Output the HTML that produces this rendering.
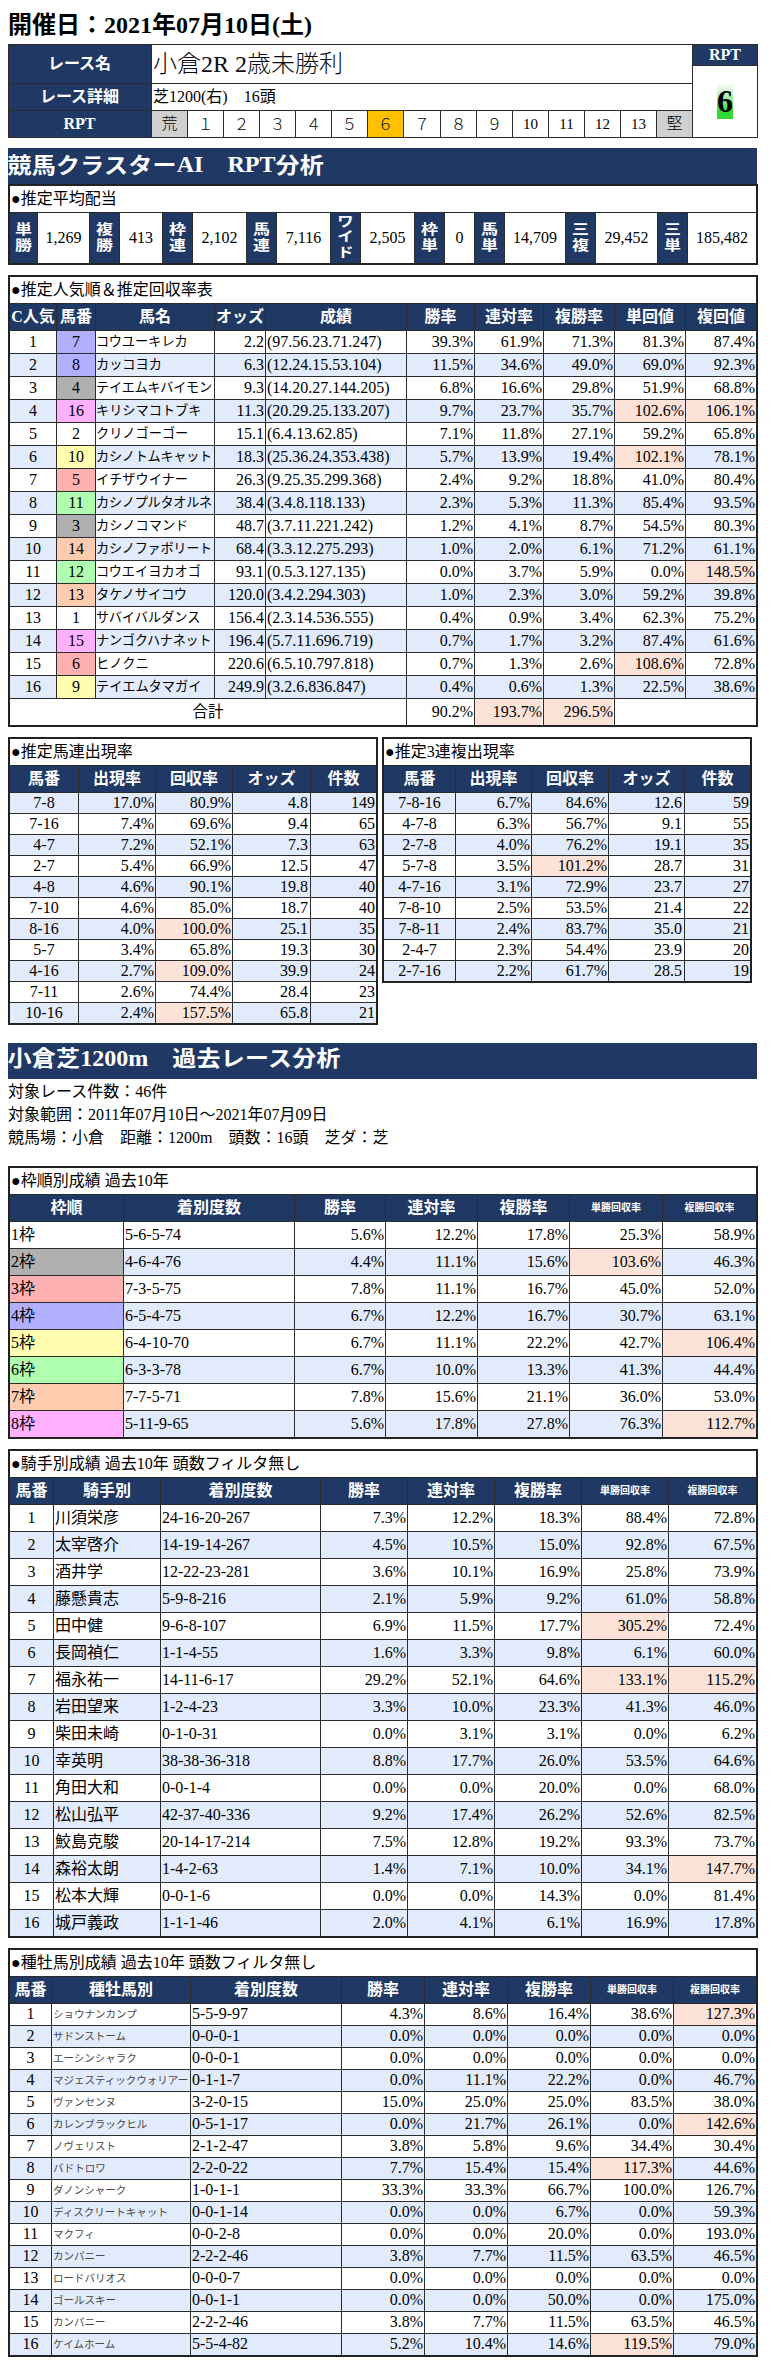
<!DOCTYPE html>
<html lang="ja"><head><meta charset="utf-8"><title>RPT</title><style>
html,body{margin:0;padding:0;background:#fff;}
body{width:784px;height:2375px;position:relative;overflow:hidden;font-family:"Liberation Serif","Noto Sans CJK JP",serif;color:#000;}
#pg div{position:absolute;box-sizing:border-box;white-space:nowrap;overflow:visible;}
.c{text-align:center}.r{text-align:right}.l{text-align:left}
.h{color:#fff;font-weight:bold;text-align:center}
</style></head><body><div id="pg">
<div class="l" style="left:8px;top:9px;width:492px;height:32px;line-height:32px;font-size:24px;font-weight:bold;">開催日：2021年07月10日(土)</div>
<div style="left:8px;top:44px;width:143px;height:94px;background:#203864;"></div>
<div class="h" style="left:8px;top:45px;width:143px;height:38px;line-height:38px;font-size:16px;">レース名</div>
<div class="h" style="left:8px;top:84px;width:143px;height:26px;line-height:26px;font-size:16px;">レース詳細</div>
<div class="h" style="left:8px;top:111px;width:143px;height:26px;line-height:26px;font-size:16px;">RPT</div>
<div class="l" style="left:153px;top:45px;width:539px;height:38px;line-height:38px;font-size:24px;font-weight:300;color:#0a0a14;">小倉2R 2歳未勝利</div>
<div class="l" style="left:153px;top:84px;width:539px;height:26px;line-height:26px;font-size:16px;">芝1200(右)　16頭</div>
<div class="c j" style="left:152px;top:111px;width:35px;height:26px;background:#d0d0d0;line-height:26px;font-size:16px;font-weight:300;">荒</div>
<div style="left:151px;top:110px;width:1px;height:28px;background:#2b2b2b"></div>
<div class="c j" style="left:188px;top:112px;width:35px;height:26px;line-height:26px;font-size:15.5px;font-weight:300;">１</div>
<div style="left:187px;top:110px;width:1px;height:28px;background:#2b2b2b"></div>
<div class="c j" style="left:224px;top:112px;width:35px;height:26px;line-height:26px;font-size:15.5px;font-weight:300;">２</div>
<div style="left:223px;top:110px;width:1px;height:28px;background:#2b2b2b"></div>
<div class="c j" style="left:260px;top:112px;width:35px;height:26px;line-height:26px;font-size:15.5px;font-weight:300;">３</div>
<div style="left:259px;top:110px;width:1px;height:28px;background:#2b2b2b"></div>
<div class="c j" style="left:296px;top:112px;width:35px;height:26px;line-height:26px;font-size:15.5px;font-weight:300;">４</div>
<div style="left:295px;top:110px;width:1px;height:28px;background:#2b2b2b"></div>
<div class="c j" style="left:332px;top:112px;width:35px;height:26px;line-height:26px;font-size:15.5px;font-weight:300;">５</div>
<div style="left:331px;top:110px;width:1px;height:28px;background:#2b2b2b"></div>
<div style="left:368px;top:111px;width:35px;height:26px;background:#ffc000;"></div>
<div class="c j" style="left:368px;top:112px;width:35px;height:26px;line-height:26px;font-size:15.5px;font-weight:300;">６</div>
<div style="left:367px;top:110px;width:1px;height:28px;background:#2b2b2b"></div>
<div class="c j" style="left:404px;top:112px;width:36px;height:26px;line-height:26px;font-size:15.5px;font-weight:300;">７</div>
<div style="left:403px;top:110px;width:1px;height:28px;background:#2b2b2b"></div>
<div class="c j" style="left:441px;top:112px;width:35px;height:26px;line-height:26px;font-size:15.5px;font-weight:300;">８</div>
<div style="left:440px;top:110px;width:1px;height:28px;background:#2b2b2b"></div>
<div class="c j" style="left:477px;top:112px;width:35px;height:26px;line-height:26px;font-size:15.5px;font-weight:300;">９</div>
<div style="left:476px;top:110px;width:1px;height:28px;background:#2b2b2b"></div>
<div class="c" style="left:513px;top:111px;width:35px;height:26px;line-height:26px;font-size:15px;">10</div>
<div style="left:512px;top:110px;width:1px;height:28px;background:#2b2b2b"></div>
<div class="c" style="left:549px;top:111px;width:35px;height:26px;line-height:26px;font-size:15px;">11</div>
<div style="left:548px;top:110px;width:1px;height:28px;background:#2b2b2b"></div>
<div class="c" style="left:585px;top:111px;width:35px;height:26px;line-height:26px;font-size:15px;">12</div>
<div style="left:584px;top:110px;width:1px;height:28px;background:#2b2b2b"></div>
<div class="c" style="left:621px;top:111px;width:35px;height:26px;line-height:26px;font-size:15px;">13</div>
<div style="left:620px;top:110px;width:1px;height:28px;background:#2b2b2b"></div>
<div class="c j" style="left:657px;top:111px;width:35px;height:26px;background:#d0d0d0;line-height:26px;font-size:16px;font-weight:300;">堅</div>
<div style="left:656px;top:110px;width:1px;height:28px;background:#2b2b2b"></div>
<div style="left:8px;top:44px;width:750px;height:1px;background:#2b2b2b"></div>
<div style="left:8px;top:83px;width:684px;height:1px;background:#2b2b2b"></div>
<div style="left:8px;top:110px;width:684px;height:1px;background:#2b2b2b"></div>
<div style="left:8px;top:137px;width:750px;height:1px;background:#2b2b2b"></div>
<div style="left:8px;top:44px;width:1px;height:94px;background:#2b2b2b"></div>
<div style="left:151px;top:44px;width:1px;height:94px;background:#2b2b2b"></div>
<div style="left:692px;top:44px;width:1px;height:94px;background:#2b2b2b"></div>
<div style="left:757px;top:44px;width:1px;height:94px;background:#2b2b2b"></div>
<div style="left:693px;top:45px;width:64px;height:21px;background:#203864;"></div>
<div class="h" style="left:693px;top:44px;width:64px;height:21px;line-height:21px;font-size:16px;">RPT</div>
<div style="left:693px;top:65px;width:64px;height:1px;background:#2b2b2b"></div>
<div class="c" style="left:717px;top:83px;width:16px;height:36px;line-height:36px;font-size:32px;font-weight:bold;background:linear-gradient(#ffffff 0%,#c4f3c4 30%,#35d935 78%,#35d935 100%);">6</div>
<div style="left:8px;top:148px;width:749px;height:37px;background:#203864;"></div>
<div class="l" style="left:7.5px;top:146px;width:749.5px;height:37px;line-height:37px;font-size:24px;color:#fff;font-weight:bold;"><span style="display:inline-block;letter-spacing:0.25px;transform:scale(1.0,0.88);transform-origin:50% 82%;">競馬クラスター</span>AI　RPT<span style="display:inline-block;letter-spacing:0.25px;transform:scale(1.0,0.88);transform-origin:50% 82%;">分析</span></div>
<div style="left:8px;top:184px;width:750px;height:2px;background:#222"></div>
<div style="left:8px;top:263px;width:750px;height:2px;background:#222"></div>
<div style="left:8px;top:184px;width:2px;height:81px;background:#222"></div>
<div style="left:756px;top:184px;width:2px;height:81px;background:#222"></div>
<div class="l" style="left:11px;top:185.5px;width:389px;height:26.0px;line-height:26.0px;font-size:16px;">●推定平均配当</div>
<div style="left:10px;top:212px;width:746px;height:1px;background:#2b2b2b"></div>
<div style="left:10px;top:213px;width:27px;height:50px;background:#203864;"></div>
<div class="h j" style="left:10px;top:218.6px;width:27px;height:37.79999999999998px;line-height:18.9px;font-size:16px;transform:scale(1.06,0.88);">単<br>勝</div>
<div class="c" style="left:38px;top:213px;width:51px;height:50px;line-height:50px;font-size:16px;">1,269</div>
<div style="left:37px;top:213px;width:1px;height:50px;background:#2b2b2b"></div>
<div style="left:90px;top:213px;width:29px;height:50px;background:#203864;"></div>
<div class="h j" style="left:90px;top:218.6px;width:29px;height:37.79999999999998px;line-height:18.9px;font-size:16px;transform:scale(1.06,0.88);">複<br>勝</div>
<div class="c" style="left:120px;top:213px;width:42px;height:50px;line-height:50px;font-size:16px;">413</div>
<div style="left:89px;top:213px;width:1px;height:50px;background:#2b2b2b"></div>
<div style="left:119px;top:213px;width:1px;height:50px;background:#2b2b2b"></div>
<div style="left:163px;top:213px;width:29px;height:50px;background:#203864;"></div>
<div class="h j" style="left:163px;top:218.6px;width:29px;height:37.79999999999998px;line-height:18.9px;font-size:16px;transform:scale(1.06,0.88);">枠<br>連</div>
<div class="c" style="left:193px;top:213px;width:53px;height:50px;line-height:50px;font-size:16px;">2,102</div>
<div style="left:162px;top:213px;width:1px;height:50px;background:#2b2b2b"></div>
<div style="left:192px;top:213px;width:1px;height:50px;background:#2b2b2b"></div>
<div style="left:247px;top:213px;width:29px;height:50px;background:#203864;"></div>
<div class="h j" style="left:247px;top:218.6px;width:29px;height:37.79999999999998px;line-height:18.9px;font-size:16px;transform:scale(1.06,0.88);">馬<br>連</div>
<div class="c" style="left:277px;top:213px;width:53px;height:50px;line-height:50px;font-size:16px;">7,116</div>
<div style="left:246px;top:213px;width:1px;height:50px;background:#2b2b2b"></div>
<div style="left:276px;top:213px;width:1px;height:50px;background:#2b2b2b"></div>
<div style="left:331px;top:213px;width:29px;height:50px;background:#203864;"></div>
<div class="h j" style="left:331px;top:211.4px;width:29px;height:52.20000000000002px;line-height:17.4px;font-size:15.5px;transform:scale(1.06,0.88);">ワ<br>イ<br>ド</div>
<div class="c" style="left:361px;top:213px;width:53px;height:50px;line-height:50px;font-size:16px;">2,505</div>
<div style="left:330px;top:213px;width:1px;height:50px;background:#2b2b2b"></div>
<div style="left:360px;top:213px;width:1px;height:50px;background:#2b2b2b"></div>
<div style="left:415px;top:213px;width:29px;height:50px;background:#203864;"></div>
<div class="h j" style="left:415px;top:218.6px;width:29px;height:37.79999999999998px;line-height:18.9px;font-size:16px;transform:scale(1.06,0.88);">枠<br>単</div>
<div class="c" style="left:445px;top:213px;width:29px;height:50px;line-height:50px;font-size:16px;">0</div>
<div style="left:414px;top:213px;width:1px;height:50px;background:#2b2b2b"></div>
<div style="left:444px;top:213px;width:1px;height:50px;background:#2b2b2b"></div>
<div style="left:475px;top:213px;width:29px;height:50px;background:#203864;"></div>
<div class="h j" style="left:475px;top:218.6px;width:29px;height:37.79999999999998px;line-height:18.9px;font-size:16px;transform:scale(1.06,0.88);">馬<br>単</div>
<div class="c" style="left:505px;top:213px;width:60px;height:50px;line-height:50px;font-size:16px;">14,709</div>
<div style="left:474px;top:213px;width:1px;height:50px;background:#2b2b2b"></div>
<div style="left:504px;top:213px;width:1px;height:50px;background:#2b2b2b"></div>
<div style="left:566px;top:213px;width:29px;height:50px;background:#203864;"></div>
<div class="h j" style="left:566px;top:218.6px;width:29px;height:37.79999999999998px;line-height:18.9px;font-size:16px;transform:scale(1.06,0.88);">三<br>複</div>
<div class="c" style="left:596px;top:213px;width:61px;height:50px;line-height:50px;font-size:16px;">29,452</div>
<div style="left:565px;top:213px;width:1px;height:50px;background:#2b2b2b"></div>
<div style="left:595px;top:213px;width:1px;height:50px;background:#2b2b2b"></div>
<div style="left:658px;top:213px;width:29px;height:50px;background:#203864;"></div>
<div class="h j" style="left:658px;top:218.6px;width:29px;height:37.79999999999998px;line-height:18.9px;font-size:16px;transform:scale(1.06,0.88);">三<br>単</div>
<div class="c" style="left:688px;top:213px;width:68px;height:50px;line-height:50px;font-size:16px;">185,482</div>
<div style="left:657px;top:213px;width:1px;height:50px;background:#2b2b2b"></div>
<div style="left:687px;top:213px;width:1px;height:50px;background:#2b2b2b"></div>
<div style="left:8px;top:275px;width:750px;height:2px;background:#222"></div>
<div style="left:8px;top:725px;width:750px;height:2px;background:#222"></div>
<div style="left:8px;top:275px;width:2px;height:452px;background:#222"></div>
<div style="left:756px;top:275px;width:2px;height:452px;background:#222"></div>
<div class="l" style="left:11px;top:276.5px;width:489px;height:26.0px;line-height:26.0px;font-size:16px;">●推定人気順＆推定回収率表</div>
<div style="left:10px;top:303px;width:746px;height:1px;background:#2b2b2b"></div>
<div style="left:10px;top:304px;width:746px;height:26px;background:#203864;"></div>
<div class="h" style="left:10px;top:304px;width:46px;height:26px;line-height:26px;font-size:16px;">C人気</div>
<div class="h" style="left:57px;top:304px;width:38px;height:26px;line-height:26px;font-size:16px;">馬番</div>
<div class="h" style="left:96px;top:304px;width:118px;height:26px;line-height:26px;font-size:16px;">馬名</div>
<div class="h" style="left:215px;top:304px;width:50px;height:26px;line-height:26px;font-size:16px;">オッズ</div>
<div class="h" style="left:266px;top:304px;width:140px;height:26px;line-height:26px;font-size:16px;">成績</div>
<div class="h" style="left:407px;top:304px;width:67px;height:26px;line-height:26px;font-size:16px;">勝率</div>
<div class="h" style="left:475px;top:304px;width:68px;height:26px;line-height:26px;font-size:16px;">連対率</div>
<div class="h" style="left:544px;top:304px;width:70px;height:26px;line-height:26px;font-size:16px;">複勝率</div>
<div class="h" style="left:615px;top:304px;width:70px;height:26px;line-height:26px;font-size:16px;">単回値</div>
<div class="h" style="left:686px;top:304px;width:70px;height:26px;line-height:26px;font-size:16px;">複回値</div>
<div style="left:10px;top:330px;width:746px;height:1px;background:#2b2b2b"></div>
<div class="c" style="left:10px;top:331px;width:46px;height:22px;line-height:22px;font-size:16px;">1</div>
<div class="c" style="left:57px;top:331px;width:38px;height:22px;background:#b0b0ff;line-height:22px;font-size:16px;">7</div>
<div class="l j" style="left:96px;top:331px;width:118px;height:22px;line-height:22px;font-size:13.2px;">コウユーキレカ</div>
<div class="r" style="left:215px;top:331px;width:49px;height:22px;line-height:22px;font-size:16px;">2.2</div>
<div class="l" style="left:267px;top:331px;width:139px;height:22px;line-height:22px;font-size:16px;">(97.56.23.71.247)</div>
<div class="r" style="left:407px;top:331px;width:66px;height:22px;line-height:22px;font-size:16px;">39.3%</div>
<div class="r" style="left:475px;top:331px;width:67px;height:22px;line-height:22px;font-size:16px;">61.9%</div>
<div class="r" style="left:544px;top:331px;width:69px;height:22px;line-height:22px;font-size:16px;">71.3%</div>
<div class="r" style="left:615px;top:331px;width:69px;height:22px;line-height:22px;font-size:16px;">81.3%</div>
<div class="r" style="left:686px;top:331px;width:69px;height:22px;line-height:22px;font-size:16px;">87.4%</div>
<div style="left:10px;top:353px;width:746px;height:23px;background:#e1ebfc;"></div>
<div style="left:10px;top:353px;width:746px;height:1px;background:#2b2b2b"></div>
<div class="c" style="left:10px;top:354px;width:46px;height:22px;line-height:22px;font-size:16px;">2</div>
<div class="c" style="left:57px;top:354px;width:38px;height:22px;background:#b0b0ff;line-height:22px;font-size:16px;">8</div>
<div class="l j" style="left:96px;top:354px;width:118px;height:22px;line-height:22px;font-size:13.2px;">カッコヨカ</div>
<div class="r" style="left:215px;top:354px;width:49px;height:22px;line-height:22px;font-size:16px;">6.3</div>
<div class="l" style="left:267px;top:354px;width:139px;height:22px;line-height:22px;font-size:16px;">(12.24.15.53.104)</div>
<div class="r" style="left:407px;top:354px;width:66px;height:22px;line-height:22px;font-size:16px;">11.5%</div>
<div class="r" style="left:475px;top:354px;width:67px;height:22px;line-height:22px;font-size:16px;">34.6%</div>
<div class="r" style="left:544px;top:354px;width:69px;height:22px;line-height:22px;font-size:16px;">49.0%</div>
<div class="r" style="left:615px;top:354px;width:69px;height:22px;line-height:22px;font-size:16px;">69.0%</div>
<div class="r" style="left:686px;top:354px;width:69px;height:22px;line-height:22px;font-size:16px;">92.3%</div>
<div style="left:10px;top:376px;width:746px;height:1px;background:#2b2b2b"></div>
<div class="c" style="left:10px;top:377px;width:46px;height:22px;line-height:22px;font-size:16px;">3</div>
<div class="c" style="left:57px;top:377px;width:38px;height:22px;background:#b0b0b0;line-height:22px;font-size:16px;">4</div>
<div class="l j" style="left:96px;top:377px;width:118px;height:22px;line-height:22px;font-size:13.2px;letter-spacing:-0.3px;">テイエムキバイモン</div>
<div class="r" style="left:215px;top:377px;width:49px;height:22px;line-height:22px;font-size:16px;">9.3</div>
<div class="l" style="left:267px;top:377px;width:139px;height:22px;line-height:22px;font-size:16px;">(14.20.27.144.205)</div>
<div class="r" style="left:407px;top:377px;width:66px;height:22px;line-height:22px;font-size:16px;">6.8%</div>
<div class="r" style="left:475px;top:377px;width:67px;height:22px;line-height:22px;font-size:16px;">16.6%</div>
<div class="r" style="left:544px;top:377px;width:69px;height:22px;line-height:22px;font-size:16px;">29.8%</div>
<div class="r" style="left:615px;top:377px;width:69px;height:22px;line-height:22px;font-size:16px;">51.9%</div>
<div class="r" style="left:686px;top:377px;width:69px;height:22px;line-height:22px;font-size:16px;">68.8%</div>
<div style="left:10px;top:399px;width:746px;height:23px;background:#e1ebfc;"></div>
<div style="left:10px;top:399px;width:746px;height:1px;background:#2b2b2b"></div>
<div class="c" style="left:10px;top:400px;width:46px;height:22px;line-height:22px;font-size:16px;">4</div>
<div class="c" style="left:57px;top:400px;width:38px;height:22px;background:#ffb0ff;line-height:22px;font-size:16px;">16</div>
<div class="l j" style="left:96px;top:400px;width:118px;height:22px;line-height:22px;font-size:13.2px;">キリシマコトブキ</div>
<div class="r" style="left:215px;top:400px;width:49px;height:22px;line-height:22px;font-size:16px;">11.3</div>
<div class="l" style="left:267px;top:400px;width:139px;height:22px;line-height:22px;font-size:16px;">(20.29.25.133.207)</div>
<div class="r" style="left:407px;top:400px;width:66px;height:22px;line-height:22px;font-size:16px;">9.7%</div>
<div class="r" style="left:475px;top:400px;width:67px;height:22px;line-height:22px;font-size:16px;">23.7%</div>
<div class="r" style="left:544px;top:400px;width:69px;height:22px;line-height:22px;font-size:16px;">35.7%</div>
<div class="r" style="left:615px;top:400px;width:69px;height:22px;background:#fde2d8;line-height:22px;font-size:16px;">102.6%</div>
<div class="r" style="left:686px;top:400px;width:69px;height:22px;background:#fde2d8;line-height:22px;font-size:16px;">106.1%</div>
<div style="left:10px;top:422px;width:746px;height:1px;background:#2b2b2b"></div>
<div class="c" style="left:10px;top:423px;width:46px;height:22px;line-height:22px;font-size:16px;">5</div>
<div class="c" style="left:57px;top:423px;width:38px;height:22px;background:#ffffff;line-height:22px;font-size:16px;">2</div>
<div class="l j" style="left:96px;top:423px;width:118px;height:22px;line-height:22px;font-size:13.2px;">クリノゴーゴー</div>
<div class="r" style="left:215px;top:423px;width:49px;height:22px;line-height:22px;font-size:16px;">15.1</div>
<div class="l" style="left:267px;top:423px;width:139px;height:22px;line-height:22px;font-size:16px;">(6.4.13.62.85)</div>
<div class="r" style="left:407px;top:423px;width:66px;height:22px;line-height:22px;font-size:16px;">7.1%</div>
<div class="r" style="left:475px;top:423px;width:67px;height:22px;line-height:22px;font-size:16px;">11.8%</div>
<div class="r" style="left:544px;top:423px;width:69px;height:22px;line-height:22px;font-size:16px;">27.1%</div>
<div class="r" style="left:615px;top:423px;width:69px;height:22px;line-height:22px;font-size:16px;">59.2%</div>
<div class="r" style="left:686px;top:423px;width:69px;height:22px;line-height:22px;font-size:16px;">65.8%</div>
<div style="left:10px;top:445px;width:746px;height:23px;background:#e1ebfc;"></div>
<div style="left:10px;top:445px;width:746px;height:1px;background:#2b2b2b"></div>
<div class="c" style="left:10px;top:446px;width:46px;height:22px;line-height:22px;font-size:16px;">6</div>
<div class="c" style="left:57px;top:446px;width:38px;height:22px;background:#fffeb0;line-height:22px;font-size:16px;">10</div>
<div class="l j" style="left:96px;top:446px;width:118px;height:22px;line-height:22px;font-size:13.2px;letter-spacing:-0.3px;">カシノトムキャット</div>
<div class="r" style="left:215px;top:446px;width:49px;height:22px;line-height:22px;font-size:16px;">18.3</div>
<div class="l" style="left:267px;top:446px;width:139px;height:22px;line-height:22px;font-size:16px;">(25.36.24.353.438)</div>
<div class="r" style="left:407px;top:446px;width:66px;height:22px;line-height:22px;font-size:16px;">5.7%</div>
<div class="r" style="left:475px;top:446px;width:67px;height:22px;line-height:22px;font-size:16px;">13.9%</div>
<div class="r" style="left:544px;top:446px;width:69px;height:22px;line-height:22px;font-size:16px;">19.4%</div>
<div class="r" style="left:615px;top:446px;width:69px;height:22px;background:#fde2d8;line-height:22px;font-size:16px;">102.1%</div>
<div class="r" style="left:686px;top:446px;width:69px;height:22px;line-height:22px;font-size:16px;">78.1%</div>
<div style="left:10px;top:468px;width:746px;height:1px;background:#2b2b2b"></div>
<div class="c" style="left:10px;top:469px;width:46px;height:22px;line-height:22px;font-size:16px;">7</div>
<div class="c" style="left:57px;top:469px;width:38px;height:22px;background:#ffb0b0;line-height:22px;font-size:16px;">5</div>
<div class="l j" style="left:96px;top:469px;width:118px;height:22px;line-height:22px;font-size:13.2px;">イチザウイナー</div>
<div class="r" style="left:215px;top:469px;width:49px;height:22px;line-height:22px;font-size:16px;">26.3</div>
<div class="l" style="left:267px;top:469px;width:139px;height:22px;line-height:22px;font-size:16px;">(9.25.35.299.368)</div>
<div class="r" style="left:407px;top:469px;width:66px;height:22px;line-height:22px;font-size:16px;">2.4%</div>
<div class="r" style="left:475px;top:469px;width:67px;height:22px;line-height:22px;font-size:16px;">9.2%</div>
<div class="r" style="left:544px;top:469px;width:69px;height:22px;line-height:22px;font-size:16px;">18.8%</div>
<div class="r" style="left:615px;top:469px;width:69px;height:22px;line-height:22px;font-size:16px;">41.0%</div>
<div class="r" style="left:686px;top:469px;width:69px;height:22px;line-height:22px;font-size:16px;">80.4%</div>
<div style="left:10px;top:491px;width:746px;height:23px;background:#e1ebfc;"></div>
<div style="left:10px;top:491px;width:746px;height:1px;background:#2b2b2b"></div>
<div class="c" style="left:10px;top:492px;width:46px;height:22px;line-height:22px;font-size:16px;">8</div>
<div class="c" style="left:57px;top:492px;width:38px;height:22px;background:#b0ffb0;line-height:22px;font-size:16px;">11</div>
<div class="l j" style="left:96px;top:492px;width:118px;height:22px;line-height:22px;font-size:13.2px;letter-spacing:-0.3px;">カシノプルタオルネ</div>
<div class="r" style="left:215px;top:492px;width:49px;height:22px;line-height:22px;font-size:16px;">38.4</div>
<div class="l" style="left:267px;top:492px;width:139px;height:22px;line-height:22px;font-size:16px;">(3.4.8.118.133)</div>
<div class="r" style="left:407px;top:492px;width:66px;height:22px;line-height:22px;font-size:16px;">2.3%</div>
<div class="r" style="left:475px;top:492px;width:67px;height:22px;line-height:22px;font-size:16px;">5.3%</div>
<div class="r" style="left:544px;top:492px;width:69px;height:22px;line-height:22px;font-size:16px;">11.3%</div>
<div class="r" style="left:615px;top:492px;width:69px;height:22px;line-height:22px;font-size:16px;">85.4%</div>
<div class="r" style="left:686px;top:492px;width:69px;height:22px;line-height:22px;font-size:16px;">93.5%</div>
<div style="left:10px;top:514px;width:746px;height:1px;background:#2b2b2b"></div>
<div class="c" style="left:10px;top:515px;width:46px;height:22px;line-height:22px;font-size:16px;">9</div>
<div class="c" style="left:57px;top:515px;width:38px;height:22px;background:#b0b0b0;line-height:22px;font-size:16px;">3</div>
<div class="l j" style="left:96px;top:515px;width:118px;height:22px;line-height:22px;font-size:13.2px;">カシノコマンド</div>
<div class="r" style="left:215px;top:515px;width:49px;height:22px;line-height:22px;font-size:16px;">48.7</div>
<div class="l" style="left:267px;top:515px;width:139px;height:22px;line-height:22px;font-size:16px;">(3.7.11.221.242)</div>
<div class="r" style="left:407px;top:515px;width:66px;height:22px;line-height:22px;font-size:16px;">1.2%</div>
<div class="r" style="left:475px;top:515px;width:67px;height:22px;line-height:22px;font-size:16px;">4.1%</div>
<div class="r" style="left:544px;top:515px;width:69px;height:22px;line-height:22px;font-size:16px;">8.7%</div>
<div class="r" style="left:615px;top:515px;width:69px;height:22px;line-height:22px;font-size:16px;">54.5%</div>
<div class="r" style="left:686px;top:515px;width:69px;height:22px;line-height:22px;font-size:16px;">80.3%</div>
<div style="left:10px;top:537px;width:746px;height:23px;background:#e1ebfc;"></div>
<div style="left:10px;top:537px;width:746px;height:1px;background:#2b2b2b"></div>
<div class="c" style="left:10px;top:538px;width:46px;height:22px;line-height:22px;font-size:16px;">10</div>
<div class="c" style="left:57px;top:538px;width:38px;height:22px;background:#ffccb0;line-height:22px;font-size:16px;">14</div>
<div class="l j" style="left:96px;top:538px;width:118px;height:22px;line-height:22px;font-size:13.2px;letter-spacing:-0.3px;">カシノファボリート</div>
<div class="r" style="left:215px;top:538px;width:49px;height:22px;line-height:22px;font-size:16px;">68.4</div>
<div class="l" style="left:267px;top:538px;width:139px;height:22px;line-height:22px;font-size:16px;">(3.3.12.275.293)</div>
<div class="r" style="left:407px;top:538px;width:66px;height:22px;line-height:22px;font-size:16px;">1.0%</div>
<div class="r" style="left:475px;top:538px;width:67px;height:22px;line-height:22px;font-size:16px;">2.0%</div>
<div class="r" style="left:544px;top:538px;width:69px;height:22px;line-height:22px;font-size:16px;">6.1%</div>
<div class="r" style="left:615px;top:538px;width:69px;height:22px;line-height:22px;font-size:16px;">71.2%</div>
<div class="r" style="left:686px;top:538px;width:69px;height:22px;line-height:22px;font-size:16px;">61.1%</div>
<div style="left:10px;top:560px;width:746px;height:1px;background:#2b2b2b"></div>
<div class="c" style="left:10px;top:561px;width:46px;height:22px;line-height:22px;font-size:16px;">11</div>
<div class="c" style="left:57px;top:561px;width:38px;height:22px;background:#b0ffb0;line-height:22px;font-size:16px;">12</div>
<div class="l j" style="left:96px;top:561px;width:118px;height:22px;line-height:22px;font-size:13.2px;">コウエイヨカオゴ</div>
<div class="r" style="left:215px;top:561px;width:49px;height:22px;line-height:22px;font-size:16px;">93.1</div>
<div class="l" style="left:267px;top:561px;width:139px;height:22px;line-height:22px;font-size:16px;">(0.5.3.127.135)</div>
<div class="r" style="left:407px;top:561px;width:66px;height:22px;line-height:22px;font-size:16px;">0.0%</div>
<div class="r" style="left:475px;top:561px;width:67px;height:22px;line-height:22px;font-size:16px;">3.7%</div>
<div class="r" style="left:544px;top:561px;width:69px;height:22px;line-height:22px;font-size:16px;">5.9%</div>
<div class="r" style="left:615px;top:561px;width:69px;height:22px;line-height:22px;font-size:16px;">0.0%</div>
<div class="r" style="left:686px;top:561px;width:69px;height:22px;background:#fde2d8;line-height:22px;font-size:16px;">148.5%</div>
<div style="left:10px;top:583px;width:746px;height:23px;background:#e1ebfc;"></div>
<div style="left:10px;top:583px;width:746px;height:1px;background:#2b2b2b"></div>
<div class="c" style="left:10px;top:584px;width:46px;height:22px;line-height:22px;font-size:16px;">12</div>
<div class="c" style="left:57px;top:584px;width:38px;height:22px;background:#ffccb0;line-height:22px;font-size:16px;">13</div>
<div class="l j" style="left:96px;top:584px;width:118px;height:22px;line-height:22px;font-size:13.2px;">タケノサイコウ</div>
<div class="r" style="left:215px;top:584px;width:49px;height:22px;line-height:22px;font-size:16px;">120.0</div>
<div class="l" style="left:267px;top:584px;width:139px;height:22px;line-height:22px;font-size:16px;">(3.4.2.294.303)</div>
<div class="r" style="left:407px;top:584px;width:66px;height:22px;line-height:22px;font-size:16px;">1.0%</div>
<div class="r" style="left:475px;top:584px;width:67px;height:22px;line-height:22px;font-size:16px;">2.3%</div>
<div class="r" style="left:544px;top:584px;width:69px;height:22px;line-height:22px;font-size:16px;">3.0%</div>
<div class="r" style="left:615px;top:584px;width:69px;height:22px;line-height:22px;font-size:16px;">59.2%</div>
<div class="r" style="left:686px;top:584px;width:69px;height:22px;line-height:22px;font-size:16px;">39.8%</div>
<div style="left:10px;top:606px;width:746px;height:1px;background:#2b2b2b"></div>
<div class="c" style="left:10px;top:607px;width:46px;height:22px;line-height:22px;font-size:16px;">13</div>
<div class="c" style="left:57px;top:607px;width:38px;height:22px;background:#ffffff;line-height:22px;font-size:16px;">1</div>
<div class="l j" style="left:96px;top:607px;width:118px;height:22px;line-height:22px;font-size:13.2px;">サバイバルダンス</div>
<div class="r" style="left:215px;top:607px;width:49px;height:22px;line-height:22px;font-size:16px;">156.4</div>
<div class="l" style="left:267px;top:607px;width:139px;height:22px;line-height:22px;font-size:16px;">(2.3.14.536.555)</div>
<div class="r" style="left:407px;top:607px;width:66px;height:22px;line-height:22px;font-size:16px;">0.4%</div>
<div class="r" style="left:475px;top:607px;width:67px;height:22px;line-height:22px;font-size:16px;">0.9%</div>
<div class="r" style="left:544px;top:607px;width:69px;height:22px;line-height:22px;font-size:16px;">3.4%</div>
<div class="r" style="left:615px;top:607px;width:69px;height:22px;line-height:22px;font-size:16px;">62.3%</div>
<div class="r" style="left:686px;top:607px;width:69px;height:22px;line-height:22px;font-size:16px;">75.2%</div>
<div style="left:10px;top:629px;width:746px;height:23px;background:#e1ebfc;"></div>
<div style="left:10px;top:629px;width:746px;height:1px;background:#2b2b2b"></div>
<div class="c" style="left:10px;top:630px;width:46px;height:22px;line-height:22px;font-size:16px;">14</div>
<div class="c" style="left:57px;top:630px;width:38px;height:22px;background:#ffb0ff;line-height:22px;font-size:16px;">15</div>
<div class="l j" style="left:96px;top:630px;width:118px;height:22px;line-height:22px;font-size:13.2px;letter-spacing:-0.3px;">ナンゴクハナネット</div>
<div class="r" style="left:215px;top:630px;width:49px;height:22px;line-height:22px;font-size:16px;">196.4</div>
<div class="l" style="left:267px;top:630px;width:139px;height:22px;line-height:22px;font-size:16px;">(5.7.11.696.719)</div>
<div class="r" style="left:407px;top:630px;width:66px;height:22px;line-height:22px;font-size:16px;">0.7%</div>
<div class="r" style="left:475px;top:630px;width:67px;height:22px;line-height:22px;font-size:16px;">1.7%</div>
<div class="r" style="left:544px;top:630px;width:69px;height:22px;line-height:22px;font-size:16px;">3.2%</div>
<div class="r" style="left:615px;top:630px;width:69px;height:22px;line-height:22px;font-size:16px;">87.4%</div>
<div class="r" style="left:686px;top:630px;width:69px;height:22px;line-height:22px;font-size:16px;">61.6%</div>
<div style="left:10px;top:652px;width:746px;height:1px;background:#2b2b2b"></div>
<div class="c" style="left:10px;top:653px;width:46px;height:22px;line-height:22px;font-size:16px;">15</div>
<div class="c" style="left:57px;top:653px;width:38px;height:22px;background:#ffb0b0;line-height:22px;font-size:16px;">6</div>
<div class="l j" style="left:96px;top:653px;width:118px;height:22px;line-height:22px;font-size:13.2px;">ヒノクニ</div>
<div class="r" style="left:215px;top:653px;width:49px;height:22px;line-height:22px;font-size:16px;">220.6</div>
<div class="l" style="left:267px;top:653px;width:139px;height:22px;line-height:22px;font-size:16px;">(6.5.10.797.818)</div>
<div class="r" style="left:407px;top:653px;width:66px;height:22px;line-height:22px;font-size:16px;">0.7%</div>
<div class="r" style="left:475px;top:653px;width:67px;height:22px;line-height:22px;font-size:16px;">1.3%</div>
<div class="r" style="left:544px;top:653px;width:69px;height:22px;line-height:22px;font-size:16px;">2.6%</div>
<div class="r" style="left:615px;top:653px;width:69px;height:22px;background:#fde2d8;line-height:22px;font-size:16px;">108.6%</div>
<div class="r" style="left:686px;top:653px;width:69px;height:22px;line-height:22px;font-size:16px;">72.8%</div>
<div style="left:10px;top:675px;width:746px;height:23px;background:#e1ebfc;"></div>
<div style="left:10px;top:675px;width:746px;height:1px;background:#2b2b2b"></div>
<div class="c" style="left:10px;top:676px;width:46px;height:22px;line-height:22px;font-size:16px;">16</div>
<div class="c" style="left:57px;top:676px;width:38px;height:22px;background:#fffeb0;line-height:22px;font-size:16px;">9</div>
<div class="l j" style="left:96px;top:676px;width:118px;height:22px;line-height:22px;font-size:13.2px;">テイエムタマガイ</div>
<div class="r" style="left:215px;top:676px;width:49px;height:22px;line-height:22px;font-size:16px;">249.9</div>
<div class="l" style="left:267px;top:676px;width:139px;height:22px;line-height:22px;font-size:16px;">(3.2.6.836.847)</div>
<div class="r" style="left:407px;top:676px;width:66px;height:22px;line-height:22px;font-size:16px;">0.4%</div>
<div class="r" style="left:475px;top:676px;width:67px;height:22px;line-height:22px;font-size:16px;">0.6%</div>
<div class="r" style="left:544px;top:676px;width:69px;height:22px;line-height:22px;font-size:16px;">1.3%</div>
<div class="r" style="left:615px;top:676px;width:69px;height:22px;line-height:22px;font-size:16px;">22.5%</div>
<div class="r" style="left:686px;top:676px;width:69px;height:22px;line-height:22px;font-size:16px;">38.6%</div>
<div style="left:10px;top:698px;width:746px;height:1px;background:#2b2b2b"></div>
<div class="c j" style="left:10px;top:699px;width:396px;height:26px;line-height:26px;font-size:15.5px;">合計</div>
<div class="r" style="left:407px;top:699px;width:66px;height:26px;line-height:26px;font-size:16px;">90.2%</div>
<div class="r" style="left:475px;top:699px;width:67px;height:26px;background:#fde2d8;line-height:26px;font-size:16px;">193.7%</div>
<div class="r" style="left:544px;top:699px;width:69px;height:26px;background:#fde2d8;line-height:26px;font-size:16px;">296.5%</div>
<div style="left:56px;top:304px;width:1px;height:394px;background:#2b2b2b"></div>
<div style="left:95px;top:304px;width:1px;height:394px;background:#2b2b2b"></div>
<div style="left:214px;top:304px;width:1px;height:394px;background:#2b2b2b"></div>
<div style="left:265px;top:304px;width:1px;height:394px;background:#2b2b2b"></div>
<div style="left:406px;top:304px;width:1px;height:421px;background:#2b2b2b"></div>
<div style="left:474px;top:304px;width:1px;height:421px;background:#2b2b2b"></div>
<div style="left:543px;top:304px;width:1px;height:421px;background:#2b2b2b"></div>
<div style="left:614px;top:304px;width:1px;height:421px;background:#2b2b2b"></div>
<div style="left:685px;top:304px;width:1px;height:394px;background:#2b2b2b"></div>
<div style="left:8px;top:737px;width:370px;height:2px;background:#222"></div>
<div style="left:8px;top:1023px;width:370px;height:2px;background:#222"></div>
<div style="left:8px;top:737px;width:2px;height:288px;background:#222"></div>
<div style="left:376px;top:737px;width:2px;height:288px;background:#222"></div>
<div class="l" style="left:11px;top:738.5px;width:364px;height:26.0px;line-height:26.0px;font-size:16px;">●推定馬連出現率</div>
<div style="left:10px;top:765px;width:366px;height:1px;background:#2b2b2b"></div>
<div style="left:10px;top:766px;width:366px;height:26px;background:#203864;"></div>
<div class="h" style="left:10px;top:765px;width:68px;height:27px;line-height:27px;font-size:16px;">馬番</div>
<div class="h" style="left:79px;top:765px;width:76px;height:27px;line-height:27px;font-size:16px;">出現率</div>
<div class="h" style="left:156px;top:765px;width:76px;height:27px;line-height:27px;font-size:16px;">回収率</div>
<div class="h" style="left:233px;top:765px;width:77px;height:27px;line-height:27px;font-size:16px;">オッズ</div>
<div class="h" style="left:311px;top:765px;width:65px;height:27px;line-height:27px;font-size:16px;">件数</div>
<div style="left:10px;top:792px;width:366px;height:21px;background:#e1ebfc;"></div>
<div style="left:10px;top:792px;width:366px;height:1px;background:#2b2b2b"></div>
<div class="c" style="left:10px;top:793px;width:68px;height:20px;line-height:20px;font-size:16px;">7-8</div>
<div class="r" style="left:79px;top:793px;width:75px;height:20px;line-height:20px;font-size:16px;">17.0%</div>
<div class="r" style="left:156px;top:793px;width:75px;height:20px;line-height:20px;font-size:16px;">80.9%</div>
<div class="r" style="left:233px;top:793px;width:75px;height:20px;line-height:20px;font-size:16px;">4.8</div>
<div class="r" style="left:311px;top:793px;width:64px;height:20px;line-height:20px;font-size:16px;">149</div>
<div style="left:10px;top:813px;width:366px;height:1px;background:#2b2b2b"></div>
<div class="c" style="left:10px;top:814px;width:68px;height:20px;line-height:20px;font-size:16px;">7-16</div>
<div class="r" style="left:79px;top:814px;width:75px;height:20px;line-height:20px;font-size:16px;">7.4%</div>
<div class="r" style="left:156px;top:814px;width:75px;height:20px;line-height:20px;font-size:16px;">69.6%</div>
<div class="r" style="left:233px;top:814px;width:75px;height:20px;line-height:20px;font-size:16px;">9.4</div>
<div class="r" style="left:311px;top:814px;width:64px;height:20px;line-height:20px;font-size:16px;">65</div>
<div style="left:10px;top:834px;width:366px;height:21px;background:#e1ebfc;"></div>
<div style="left:10px;top:834px;width:366px;height:1px;background:#2b2b2b"></div>
<div class="c" style="left:10px;top:835px;width:68px;height:20px;line-height:20px;font-size:16px;">4-7</div>
<div class="r" style="left:79px;top:835px;width:75px;height:20px;line-height:20px;font-size:16px;">7.2%</div>
<div class="r" style="left:156px;top:835px;width:75px;height:20px;line-height:20px;font-size:16px;">52.1%</div>
<div class="r" style="left:233px;top:835px;width:75px;height:20px;line-height:20px;font-size:16px;">7.3</div>
<div class="r" style="left:311px;top:835px;width:64px;height:20px;line-height:20px;font-size:16px;">63</div>
<div style="left:10px;top:855px;width:366px;height:1px;background:#2b2b2b"></div>
<div class="c" style="left:10px;top:856px;width:68px;height:20px;line-height:20px;font-size:16px;">2-7</div>
<div class="r" style="left:79px;top:856px;width:75px;height:20px;line-height:20px;font-size:16px;">5.4%</div>
<div class="r" style="left:156px;top:856px;width:75px;height:20px;line-height:20px;font-size:16px;">66.9%</div>
<div class="r" style="left:233px;top:856px;width:75px;height:20px;line-height:20px;font-size:16px;">12.5</div>
<div class="r" style="left:311px;top:856px;width:64px;height:20px;line-height:20px;font-size:16px;">47</div>
<div style="left:10px;top:876px;width:366px;height:21px;background:#e1ebfc;"></div>
<div style="left:10px;top:876px;width:366px;height:1px;background:#2b2b2b"></div>
<div class="c" style="left:10px;top:877px;width:68px;height:20px;line-height:20px;font-size:16px;">4-8</div>
<div class="r" style="left:79px;top:877px;width:75px;height:20px;line-height:20px;font-size:16px;">4.6%</div>
<div class="r" style="left:156px;top:877px;width:75px;height:20px;line-height:20px;font-size:16px;">90.1%</div>
<div class="r" style="left:233px;top:877px;width:75px;height:20px;line-height:20px;font-size:16px;">19.8</div>
<div class="r" style="left:311px;top:877px;width:64px;height:20px;line-height:20px;font-size:16px;">40</div>
<div style="left:10px;top:897px;width:366px;height:1px;background:#2b2b2b"></div>
<div class="c" style="left:10px;top:898px;width:68px;height:20px;line-height:20px;font-size:16px;">7-10</div>
<div class="r" style="left:79px;top:898px;width:75px;height:20px;line-height:20px;font-size:16px;">4.6%</div>
<div class="r" style="left:156px;top:898px;width:75px;height:20px;line-height:20px;font-size:16px;">85.0%</div>
<div class="r" style="left:233px;top:898px;width:75px;height:20px;line-height:20px;font-size:16px;">18.7</div>
<div class="r" style="left:311px;top:898px;width:64px;height:20px;line-height:20px;font-size:16px;">40</div>
<div style="left:10px;top:918px;width:366px;height:21px;background:#e1ebfc;"></div>
<div style="left:10px;top:918px;width:366px;height:1px;background:#2b2b2b"></div>
<div class="c" style="left:10px;top:919px;width:68px;height:20px;line-height:20px;font-size:16px;">8-16</div>
<div class="r" style="left:79px;top:919px;width:75px;height:20px;line-height:20px;font-size:16px;">4.0%</div>
<div class="r" style="left:156px;top:919px;width:75px;height:20px;background:#fde2d8;line-height:20px;font-size:16px;">100.0%</div>
<div class="r" style="left:233px;top:919px;width:75px;height:20px;line-height:20px;font-size:16px;">25.1</div>
<div class="r" style="left:311px;top:919px;width:64px;height:20px;line-height:20px;font-size:16px;">35</div>
<div style="left:10px;top:939px;width:366px;height:1px;background:#2b2b2b"></div>
<div class="c" style="left:10px;top:940px;width:68px;height:20px;line-height:20px;font-size:16px;">5-7</div>
<div class="r" style="left:79px;top:940px;width:75px;height:20px;line-height:20px;font-size:16px;">3.4%</div>
<div class="r" style="left:156px;top:940px;width:75px;height:20px;line-height:20px;font-size:16px;">65.8%</div>
<div class="r" style="left:233px;top:940px;width:75px;height:20px;line-height:20px;font-size:16px;">19.3</div>
<div class="r" style="left:311px;top:940px;width:64px;height:20px;line-height:20px;font-size:16px;">30</div>
<div style="left:10px;top:960px;width:366px;height:21px;background:#e1ebfc;"></div>
<div style="left:10px;top:960px;width:366px;height:1px;background:#2b2b2b"></div>
<div class="c" style="left:10px;top:961px;width:68px;height:20px;line-height:20px;font-size:16px;">4-16</div>
<div class="r" style="left:79px;top:961px;width:75px;height:20px;line-height:20px;font-size:16px;">2.7%</div>
<div class="r" style="left:156px;top:961px;width:75px;height:20px;background:#fde2d8;line-height:20px;font-size:16px;">109.0%</div>
<div class="r" style="left:233px;top:961px;width:75px;height:20px;line-height:20px;font-size:16px;">39.9</div>
<div class="r" style="left:311px;top:961px;width:64px;height:20px;line-height:20px;font-size:16px;">24</div>
<div style="left:10px;top:981px;width:366px;height:1px;background:#2b2b2b"></div>
<div class="c" style="left:10px;top:982px;width:68px;height:20px;line-height:20px;font-size:16px;">7-11</div>
<div class="r" style="left:79px;top:982px;width:75px;height:20px;line-height:20px;font-size:16px;">2.6%</div>
<div class="r" style="left:156px;top:982px;width:75px;height:20px;line-height:20px;font-size:16px;">74.4%</div>
<div class="r" style="left:233px;top:982px;width:75px;height:20px;line-height:20px;font-size:16px;">28.4</div>
<div class="r" style="left:311px;top:982px;width:64px;height:20px;line-height:20px;font-size:16px;">23</div>
<div style="left:10px;top:1002px;width:366px;height:21px;background:#e1ebfc;"></div>
<div style="left:10px;top:1002px;width:366px;height:1px;background:#2b2b2b"></div>
<div class="c" style="left:10px;top:1003px;width:68px;height:20px;line-height:20px;font-size:16px;">10-16</div>
<div class="r" style="left:79px;top:1003px;width:75px;height:20px;line-height:20px;font-size:16px;">2.4%</div>
<div class="r" style="left:156px;top:1003px;width:75px;height:20px;background:#fde2d8;line-height:20px;font-size:16px;">157.5%</div>
<div class="r" style="left:233px;top:1003px;width:75px;height:20px;line-height:20px;font-size:16px;">65.8</div>
<div class="r" style="left:311px;top:1003px;width:64px;height:20px;line-height:20px;font-size:16px;">21</div>
<div style="left:78px;top:765px;width:1px;height:258px;background:#2b2b2b"></div>
<div style="left:155px;top:765px;width:1px;height:258px;background:#2b2b2b"></div>
<div style="left:232px;top:765px;width:1px;height:258px;background:#2b2b2b"></div>
<div style="left:310px;top:765px;width:1px;height:258px;background:#2b2b2b"></div>
<div style="left:382px;top:737px;width:370px;height:2px;background:#222"></div>
<div style="left:382px;top:981px;width:370px;height:2px;background:#222"></div>
<div style="left:382px;top:737px;width:2px;height:246px;background:#222"></div>
<div style="left:750px;top:737px;width:2px;height:246px;background:#222"></div>
<div class="l" style="left:385px;top:738.5px;width:364px;height:26.0px;line-height:26.0px;font-size:16px;">●推定3連複出現率</div>
<div style="left:384px;top:765px;width:366px;height:1px;background:#2b2b2b"></div>
<div style="left:384px;top:766px;width:366px;height:26px;background:#203864;"></div>
<div class="h" style="left:384px;top:765px;width:71px;height:27px;line-height:27px;font-size:16px;">馬番</div>
<div class="h" style="left:456px;top:765px;width:75px;height:27px;line-height:27px;font-size:16px;">出現率</div>
<div class="h" style="left:532px;top:765px;width:76px;height:27px;line-height:27px;font-size:16px;">回収率</div>
<div class="h" style="left:609px;top:765px;width:75px;height:27px;line-height:27px;font-size:16px;">オッズ</div>
<div class="h" style="left:685px;top:765px;width:65px;height:27px;line-height:27px;font-size:16px;">件数</div>
<div style="left:384px;top:792px;width:366px;height:21px;background:#e1ebfc;"></div>
<div style="left:384px;top:792px;width:366px;height:1px;background:#2b2b2b"></div>
<div class="c" style="left:384px;top:793px;width:71px;height:20px;line-height:20px;font-size:16px;">7-8-16</div>
<div class="r" style="left:456px;top:793px;width:74px;height:20px;line-height:20px;font-size:16px;">6.7%</div>
<div class="r" style="left:532px;top:793px;width:75px;height:20px;line-height:20px;font-size:16px;">84.6%</div>
<div class="r" style="left:609px;top:793px;width:73px;height:20px;line-height:20px;font-size:16px;">12.6</div>
<div class="r" style="left:685px;top:793px;width:64px;height:20px;line-height:20px;font-size:16px;">59</div>
<div style="left:384px;top:813px;width:366px;height:1px;background:#2b2b2b"></div>
<div class="c" style="left:384px;top:814px;width:71px;height:20px;line-height:20px;font-size:16px;">4-7-8</div>
<div class="r" style="left:456px;top:814px;width:74px;height:20px;line-height:20px;font-size:16px;">6.3%</div>
<div class="r" style="left:532px;top:814px;width:75px;height:20px;line-height:20px;font-size:16px;">56.7%</div>
<div class="r" style="left:609px;top:814px;width:73px;height:20px;line-height:20px;font-size:16px;">9.1</div>
<div class="r" style="left:685px;top:814px;width:64px;height:20px;line-height:20px;font-size:16px;">55</div>
<div style="left:384px;top:834px;width:366px;height:21px;background:#e1ebfc;"></div>
<div style="left:384px;top:834px;width:366px;height:1px;background:#2b2b2b"></div>
<div class="c" style="left:384px;top:835px;width:71px;height:20px;line-height:20px;font-size:16px;">2-7-8</div>
<div class="r" style="left:456px;top:835px;width:74px;height:20px;line-height:20px;font-size:16px;">4.0%</div>
<div class="r" style="left:532px;top:835px;width:75px;height:20px;line-height:20px;font-size:16px;">76.2%</div>
<div class="r" style="left:609px;top:835px;width:73px;height:20px;line-height:20px;font-size:16px;">19.1</div>
<div class="r" style="left:685px;top:835px;width:64px;height:20px;line-height:20px;font-size:16px;">35</div>
<div style="left:384px;top:855px;width:366px;height:1px;background:#2b2b2b"></div>
<div class="c" style="left:384px;top:856px;width:71px;height:20px;line-height:20px;font-size:16px;">5-7-8</div>
<div class="r" style="left:456px;top:856px;width:74px;height:20px;line-height:20px;font-size:16px;">3.5%</div>
<div class="r" style="left:532px;top:856px;width:75px;height:20px;background:#fde2d8;line-height:20px;font-size:16px;">101.2%</div>
<div class="r" style="left:609px;top:856px;width:73px;height:20px;line-height:20px;font-size:16px;">28.7</div>
<div class="r" style="left:685px;top:856px;width:64px;height:20px;line-height:20px;font-size:16px;">31</div>
<div style="left:384px;top:876px;width:366px;height:21px;background:#e1ebfc;"></div>
<div style="left:384px;top:876px;width:366px;height:1px;background:#2b2b2b"></div>
<div class="c" style="left:384px;top:877px;width:71px;height:20px;line-height:20px;font-size:16px;">4-7-16</div>
<div class="r" style="left:456px;top:877px;width:74px;height:20px;line-height:20px;font-size:16px;">3.1%</div>
<div class="r" style="left:532px;top:877px;width:75px;height:20px;line-height:20px;font-size:16px;">72.9%</div>
<div class="r" style="left:609px;top:877px;width:73px;height:20px;line-height:20px;font-size:16px;">23.7</div>
<div class="r" style="left:685px;top:877px;width:64px;height:20px;line-height:20px;font-size:16px;">27</div>
<div style="left:384px;top:897px;width:366px;height:1px;background:#2b2b2b"></div>
<div class="c" style="left:384px;top:898px;width:71px;height:20px;line-height:20px;font-size:16px;">7-8-10</div>
<div class="r" style="left:456px;top:898px;width:74px;height:20px;line-height:20px;font-size:16px;">2.5%</div>
<div class="r" style="left:532px;top:898px;width:75px;height:20px;line-height:20px;font-size:16px;">53.5%</div>
<div class="r" style="left:609px;top:898px;width:73px;height:20px;line-height:20px;font-size:16px;">21.4</div>
<div class="r" style="left:685px;top:898px;width:64px;height:20px;line-height:20px;font-size:16px;">22</div>
<div style="left:384px;top:918px;width:366px;height:21px;background:#e1ebfc;"></div>
<div style="left:384px;top:918px;width:366px;height:1px;background:#2b2b2b"></div>
<div class="c" style="left:384px;top:919px;width:71px;height:20px;line-height:20px;font-size:16px;">7-8-11</div>
<div class="r" style="left:456px;top:919px;width:74px;height:20px;line-height:20px;font-size:16px;">2.4%</div>
<div class="r" style="left:532px;top:919px;width:75px;height:20px;line-height:20px;font-size:16px;">83.7%</div>
<div class="r" style="left:609px;top:919px;width:73px;height:20px;line-height:20px;font-size:16px;">35.0</div>
<div class="r" style="left:685px;top:919px;width:64px;height:20px;line-height:20px;font-size:16px;">21</div>
<div style="left:384px;top:939px;width:366px;height:1px;background:#2b2b2b"></div>
<div class="c" style="left:384px;top:940px;width:71px;height:20px;line-height:20px;font-size:16px;">2-4-7</div>
<div class="r" style="left:456px;top:940px;width:74px;height:20px;line-height:20px;font-size:16px;">2.3%</div>
<div class="r" style="left:532px;top:940px;width:75px;height:20px;line-height:20px;font-size:16px;">54.4%</div>
<div class="r" style="left:609px;top:940px;width:73px;height:20px;line-height:20px;font-size:16px;">23.9</div>
<div class="r" style="left:685px;top:940px;width:64px;height:20px;line-height:20px;font-size:16px;">20</div>
<div style="left:384px;top:960px;width:366px;height:21px;background:#e1ebfc;"></div>
<div style="left:384px;top:960px;width:366px;height:1px;background:#2b2b2b"></div>
<div class="c" style="left:384px;top:961px;width:71px;height:20px;line-height:20px;font-size:16px;">2-7-16</div>
<div class="r" style="left:456px;top:961px;width:74px;height:20px;line-height:20px;font-size:16px;">2.2%</div>
<div class="r" style="left:532px;top:961px;width:75px;height:20px;line-height:20px;font-size:16px;">61.7%</div>
<div class="r" style="left:609px;top:961px;width:73px;height:20px;line-height:20px;font-size:16px;">28.5</div>
<div class="r" style="left:685px;top:961px;width:64px;height:20px;line-height:20px;font-size:16px;">19</div>
<div style="left:455px;top:765px;width:1px;height:216px;background:#2b2b2b"></div>
<div style="left:531px;top:765px;width:1px;height:216px;background:#2b2b2b"></div>
<div style="left:608px;top:765px;width:1px;height:216px;background:#2b2b2b"></div>
<div style="left:684px;top:765px;width:1px;height:216px;background:#2b2b2b"></div>
<div style="left:8px;top:1043px;width:749px;height:36px;background:#203864;"></div>
<div class="l" style="left:7.5px;top:1041px;width:749.5px;height:35px;line-height:35px;font-size:24px;color:#fff;font-weight:bold;"><span style="display:inline-block;letter-spacing:0.25px;transform:scale(1.0,0.88);transform-origin:50% 82%;">小倉芝</span>1200m　<span style="display:inline-block;letter-spacing:0.25px;transform:scale(1.0,0.88);transform-origin:50% 82%;">過去レース分析</span></div>
<div class="l" style="left:8px;top:1080px;width:692px;height:23px;line-height:23px;font-size:16px;">対象レース件数：46件</div>
<div class="l" style="left:8px;top:1103px;width:692px;height:23px;line-height:23px;font-size:16px;">対象範囲：2011年07月10日～2021年07月09日</div>
<div class="l" style="left:8px;top:1126px;width:692px;height:23px;line-height:23px;font-size:16px;">競馬場：小倉　距離：1200m　頭数：16頭　芝ダ：芝</div>
<div style="left:8px;top:1166px;width:750px;height:2px;background:#222"></div>
<div style="left:8px;top:1437px;width:750px;height:2px;background:#222"></div>
<div style="left:8px;top:1166px;width:2px;height:273px;background:#222"></div>
<div style="left:756px;top:1166px;width:2px;height:273px;background:#222"></div>
<div class="l" style="left:11px;top:1167.5px;width:689px;height:26.0px;line-height:26.0px;font-size:16px;">●枠順別成績 過去10年</div>
<div style="left:10px;top:1194px;width:746px;height:1px;background:#2b2b2b"></div>
<div style="left:10px;top:1195px;width:746px;height:26px;background:#203864;"></div>
<div class="h" style="left:10px;top:1194px;width:113px;height:27px;line-height:27px;font-size:16px;">枠順</div>
<div class="h" style="left:124px;top:1194px;width:170px;height:27px;line-height:27px;font-size:16px;">着別度数</div>
<div class="h" style="left:295px;top:1194px;width:90px;height:27px;line-height:27px;font-size:16px;">勝率</div>
<div class="h" style="left:386px;top:1194px;width:91px;height:27px;line-height:27px;font-size:16px;">連対率</div>
<div class="h" style="left:478px;top:1194px;width:91px;height:27px;line-height:27px;font-size:16px;">複勝率</div>
<div class="h" style="left:570px;top:1194px;width:92px;height:27px;line-height:27px;font-size:10px;">単勝回収率</div>
<div class="h" style="left:663px;top:1194px;width:93px;height:27px;line-height:27px;font-size:10px;">複勝回収率</div>
<div style="left:10px;top:1221px;width:746px;height:1px;background:#2b2b2b"></div>
<div class="l" style="left:10px;top:1222px;width:113px;height:26px;line-height:26px;font-size:16px;padding-left:1px;">1枠</div>
<div class="l" style="left:125px;top:1222px;width:169px;height:26px;line-height:26px;font-size:16px;">5-6-5-74</div>
<div class="r" style="left:295px;top:1222px;width:89px;height:26px;line-height:26px;font-size:16px;">5.6%</div>
<div class="r" style="left:386px;top:1222px;width:90px;height:26px;line-height:26px;font-size:16px;">12.2%</div>
<div class="r" style="left:478px;top:1222px;width:90px;height:26px;line-height:26px;font-size:16px;">17.8%</div>
<div class="r" style="left:570px;top:1222px;width:91px;height:26px;line-height:26px;font-size:16px;">25.3%</div>
<div class="r" style="left:663px;top:1222px;width:92px;height:26px;line-height:26px;font-size:16px;">58.9%</div>
<div style="left:10px;top:1248px;width:746px;height:27px;background:#e1ebfc;"></div>
<div style="left:10px;top:1248px;width:746px;height:1px;background:#2b2b2b"></div>
<div class="l" style="left:10px;top:1249px;width:113px;height:26px;background:#b0b0b0;line-height:26px;font-size:16px;padding-left:1px;">2枠</div>
<div class="l" style="left:125px;top:1249px;width:169px;height:26px;line-height:26px;font-size:16px;">4-6-4-76</div>
<div class="r" style="left:295px;top:1249px;width:89px;height:26px;line-height:26px;font-size:16px;">4.4%</div>
<div class="r" style="left:386px;top:1249px;width:90px;height:26px;line-height:26px;font-size:16px;">11.1%</div>
<div class="r" style="left:478px;top:1249px;width:90px;height:26px;line-height:26px;font-size:16px;">15.6%</div>
<div class="r" style="left:570px;top:1249px;width:91px;height:26px;background:#fde2d8;line-height:26px;font-size:16px;">103.6%</div>
<div class="r" style="left:663px;top:1249px;width:92px;height:26px;line-height:26px;font-size:16px;">46.3%</div>
<div style="left:10px;top:1275px;width:746px;height:1px;background:#2b2b2b"></div>
<div class="l" style="left:10px;top:1276px;width:113px;height:26px;background:#ffb0b0;line-height:26px;font-size:16px;padding-left:1px;">3枠</div>
<div class="l" style="left:125px;top:1276px;width:169px;height:26px;line-height:26px;font-size:16px;">7-3-5-75</div>
<div class="r" style="left:295px;top:1276px;width:89px;height:26px;line-height:26px;font-size:16px;">7.8%</div>
<div class="r" style="left:386px;top:1276px;width:90px;height:26px;line-height:26px;font-size:16px;">11.1%</div>
<div class="r" style="left:478px;top:1276px;width:90px;height:26px;line-height:26px;font-size:16px;">16.7%</div>
<div class="r" style="left:570px;top:1276px;width:91px;height:26px;line-height:26px;font-size:16px;">45.0%</div>
<div class="r" style="left:663px;top:1276px;width:92px;height:26px;line-height:26px;font-size:16px;">52.0%</div>
<div style="left:10px;top:1302px;width:746px;height:27px;background:#e1ebfc;"></div>
<div style="left:10px;top:1302px;width:746px;height:1px;background:#2b2b2b"></div>
<div class="l" style="left:10px;top:1303px;width:113px;height:26px;background:#b0b0ff;line-height:26px;font-size:16px;padding-left:1px;">4枠</div>
<div class="l" style="left:125px;top:1303px;width:169px;height:26px;line-height:26px;font-size:16px;">6-5-4-75</div>
<div class="r" style="left:295px;top:1303px;width:89px;height:26px;line-height:26px;font-size:16px;">6.7%</div>
<div class="r" style="left:386px;top:1303px;width:90px;height:26px;line-height:26px;font-size:16px;">12.2%</div>
<div class="r" style="left:478px;top:1303px;width:90px;height:26px;line-height:26px;font-size:16px;">16.7%</div>
<div class="r" style="left:570px;top:1303px;width:91px;height:26px;line-height:26px;font-size:16px;">30.7%</div>
<div class="r" style="left:663px;top:1303px;width:92px;height:26px;line-height:26px;font-size:16px;">63.1%</div>
<div style="left:10px;top:1329px;width:746px;height:1px;background:#2b2b2b"></div>
<div class="l" style="left:10px;top:1330px;width:113px;height:26px;background:#fffeb0;line-height:26px;font-size:16px;padding-left:1px;">5枠</div>
<div class="l" style="left:125px;top:1330px;width:169px;height:26px;line-height:26px;font-size:16px;">6-4-10-70</div>
<div class="r" style="left:295px;top:1330px;width:89px;height:26px;line-height:26px;font-size:16px;">6.7%</div>
<div class="r" style="left:386px;top:1330px;width:90px;height:26px;line-height:26px;font-size:16px;">11.1%</div>
<div class="r" style="left:478px;top:1330px;width:90px;height:26px;line-height:26px;font-size:16px;">22.2%</div>
<div class="r" style="left:570px;top:1330px;width:91px;height:26px;line-height:26px;font-size:16px;">42.7%</div>
<div class="r" style="left:663px;top:1330px;width:92px;height:26px;background:#fde2d8;line-height:26px;font-size:16px;">106.4%</div>
<div style="left:10px;top:1356px;width:746px;height:27px;background:#e1ebfc;"></div>
<div style="left:10px;top:1356px;width:746px;height:1px;background:#2b2b2b"></div>
<div class="l" style="left:10px;top:1357px;width:113px;height:26px;background:#b0ffb0;line-height:26px;font-size:16px;padding-left:1px;">6枠</div>
<div class="l" style="left:125px;top:1357px;width:169px;height:26px;line-height:26px;font-size:16px;">6-3-3-78</div>
<div class="r" style="left:295px;top:1357px;width:89px;height:26px;line-height:26px;font-size:16px;">6.7%</div>
<div class="r" style="left:386px;top:1357px;width:90px;height:26px;line-height:26px;font-size:16px;">10.0%</div>
<div class="r" style="left:478px;top:1357px;width:90px;height:26px;line-height:26px;font-size:16px;">13.3%</div>
<div class="r" style="left:570px;top:1357px;width:91px;height:26px;line-height:26px;font-size:16px;">41.3%</div>
<div class="r" style="left:663px;top:1357px;width:92px;height:26px;line-height:26px;font-size:16px;">44.4%</div>
<div style="left:10px;top:1383px;width:746px;height:1px;background:#2b2b2b"></div>
<div class="l" style="left:10px;top:1384px;width:113px;height:26px;background:#ffccb0;line-height:26px;font-size:16px;padding-left:1px;">7枠</div>
<div class="l" style="left:125px;top:1384px;width:169px;height:26px;line-height:26px;font-size:16px;">7-7-5-71</div>
<div class="r" style="left:295px;top:1384px;width:89px;height:26px;line-height:26px;font-size:16px;">7.8%</div>
<div class="r" style="left:386px;top:1384px;width:90px;height:26px;line-height:26px;font-size:16px;">15.6%</div>
<div class="r" style="left:478px;top:1384px;width:90px;height:26px;line-height:26px;font-size:16px;">21.1%</div>
<div class="r" style="left:570px;top:1384px;width:91px;height:26px;line-height:26px;font-size:16px;">36.0%</div>
<div class="r" style="left:663px;top:1384px;width:92px;height:26px;line-height:26px;font-size:16px;">53.0%</div>
<div style="left:10px;top:1410px;width:746px;height:27px;background:#e1ebfc;"></div>
<div style="left:10px;top:1410px;width:746px;height:1px;background:#2b2b2b"></div>
<div class="l" style="left:10px;top:1411px;width:113px;height:26px;background:#ffb0ff;line-height:26px;font-size:16px;padding-left:1px;">8枠</div>
<div class="l" style="left:125px;top:1411px;width:169px;height:26px;line-height:26px;font-size:16px;">5-11-9-65</div>
<div class="r" style="left:295px;top:1411px;width:89px;height:26px;line-height:26px;font-size:16px;">5.6%</div>
<div class="r" style="left:386px;top:1411px;width:90px;height:26px;line-height:26px;font-size:16px;">17.8%</div>
<div class="r" style="left:478px;top:1411px;width:90px;height:26px;line-height:26px;font-size:16px;">27.8%</div>
<div class="r" style="left:570px;top:1411px;width:91px;height:26px;line-height:26px;font-size:16px;">76.3%</div>
<div class="r" style="left:663px;top:1411px;width:92px;height:26px;background:#fde2d8;line-height:26px;font-size:16px;">112.7%</div>
<div style="left:123px;top:1194px;width:1px;height:243px;background:#2b2b2b"></div>
<div style="left:294px;top:1194px;width:1px;height:243px;background:#2b2b2b"></div>
<div style="left:385px;top:1194px;width:1px;height:243px;background:#2b2b2b"></div>
<div style="left:477px;top:1194px;width:1px;height:243px;background:#2b2b2b"></div>
<div style="left:569px;top:1194px;width:1px;height:243px;background:#2b2b2b"></div>
<div style="left:662px;top:1194px;width:1px;height:243px;background:#2b2b2b"></div>
<div style="left:8px;top:1449px;width:750px;height:2px;background:#222"></div>
<div style="left:8px;top:1936px;width:750px;height:2px;background:#222"></div>
<div style="left:8px;top:1449px;width:2px;height:489px;background:#222"></div>
<div style="left:756px;top:1449px;width:2px;height:489px;background:#222"></div>
<div class="l" style="left:11px;top:1450.5px;width:689px;height:26.0px;line-height:26.0px;font-size:16px;">●騎手別成績 過去10年 頭数フィルタ無し</div>
<div style="left:10px;top:1477px;width:746px;height:1px;background:#2b2b2b"></div>
<div style="left:10px;top:1478px;width:746px;height:26px;background:#203864;"></div>
<div class="h" style="left:10px;top:1477px;width:43px;height:27px;line-height:27px;font-size:16px;">馬番</div>
<div class="h" style="left:54px;top:1477px;width:106px;height:27px;line-height:27px;font-size:16px;">騎手別</div>
<div class="h" style="left:161px;top:1477px;width:159px;height:27px;line-height:27px;font-size:16px;">着別度数</div>
<div class="h" style="left:321px;top:1477px;width:86px;height:27px;line-height:27px;font-size:16px;">勝率</div>
<div class="h" style="left:408px;top:1477px;width:86px;height:27px;line-height:27px;font-size:16px;">連対率</div>
<div class="h" style="left:495px;top:1477px;width:86px;height:27px;line-height:27px;font-size:16px;">複勝率</div>
<div class="h" style="left:582px;top:1477px;width:86px;height:27px;line-height:27px;font-size:10px;">単勝回収率</div>
<div class="h" style="left:669px;top:1477px;width:87px;height:27px;line-height:27px;font-size:10px;">複勝回収率</div>
<div style="left:10px;top:1504px;width:746px;height:1px;background:#2b2b2b"></div>
<div class="c" style="left:10px;top:1505px;width:43px;height:26px;line-height:26px;font-size:16px;">1</div>
<div class="l j" style="left:55px;top:1505px;width:105px;height:26px;line-height:26px;font-size:16px;">川須栄彦</div>
<div class="l" style="left:162px;top:1505px;width:158px;height:26px;line-height:26px;font-size:16px;">24-16-20-267</div>
<div class="r" style="left:321px;top:1505px;width:85px;height:26px;line-height:26px;font-size:16px;">7.3%</div>
<div class="r" style="left:408px;top:1505px;width:85px;height:26px;line-height:26px;font-size:16px;">12.2%</div>
<div class="r" style="left:495px;top:1505px;width:85px;height:26px;line-height:26px;font-size:16px;">18.3%</div>
<div class="r" style="left:582px;top:1505px;width:85px;height:26px;line-height:26px;font-size:16px;">88.4%</div>
<div class="r" style="left:669px;top:1505px;width:86px;height:26px;line-height:26px;font-size:16px;">72.8%</div>
<div style="left:10px;top:1531px;width:746px;height:27px;background:#e1ebfc;"></div>
<div style="left:10px;top:1531px;width:746px;height:1px;background:#2b2b2b"></div>
<div class="c" style="left:10px;top:1532px;width:43px;height:26px;line-height:26px;font-size:16px;">2</div>
<div class="l j" style="left:55px;top:1532px;width:105px;height:26px;line-height:26px;font-size:16px;">太宰啓介</div>
<div class="l" style="left:162px;top:1532px;width:158px;height:26px;line-height:26px;font-size:16px;">14-19-14-267</div>
<div class="r" style="left:321px;top:1532px;width:85px;height:26px;line-height:26px;font-size:16px;">4.5%</div>
<div class="r" style="left:408px;top:1532px;width:85px;height:26px;line-height:26px;font-size:16px;">10.5%</div>
<div class="r" style="left:495px;top:1532px;width:85px;height:26px;line-height:26px;font-size:16px;">15.0%</div>
<div class="r" style="left:582px;top:1532px;width:85px;height:26px;line-height:26px;font-size:16px;">92.8%</div>
<div class="r" style="left:669px;top:1532px;width:86px;height:26px;line-height:26px;font-size:16px;">67.5%</div>
<div style="left:10px;top:1558px;width:746px;height:1px;background:#2b2b2b"></div>
<div class="c" style="left:10px;top:1559px;width:43px;height:26px;line-height:26px;font-size:16px;">3</div>
<div class="l j" style="left:55px;top:1559px;width:105px;height:26px;line-height:26px;font-size:16px;">酒井学</div>
<div class="l" style="left:162px;top:1559px;width:158px;height:26px;line-height:26px;font-size:16px;">12-22-23-281</div>
<div class="r" style="left:321px;top:1559px;width:85px;height:26px;line-height:26px;font-size:16px;">3.6%</div>
<div class="r" style="left:408px;top:1559px;width:85px;height:26px;line-height:26px;font-size:16px;">10.1%</div>
<div class="r" style="left:495px;top:1559px;width:85px;height:26px;line-height:26px;font-size:16px;">16.9%</div>
<div class="r" style="left:582px;top:1559px;width:85px;height:26px;line-height:26px;font-size:16px;">25.8%</div>
<div class="r" style="left:669px;top:1559px;width:86px;height:26px;line-height:26px;font-size:16px;">73.9%</div>
<div style="left:10px;top:1585px;width:746px;height:27px;background:#e1ebfc;"></div>
<div style="left:10px;top:1585px;width:746px;height:1px;background:#2b2b2b"></div>
<div class="c" style="left:10px;top:1586px;width:43px;height:26px;line-height:26px;font-size:16px;">4</div>
<div class="l j" style="left:55px;top:1586px;width:105px;height:26px;line-height:26px;font-size:16px;">藤懸貴志</div>
<div class="l" style="left:162px;top:1586px;width:158px;height:26px;line-height:26px;font-size:16px;">5-9-8-216</div>
<div class="r" style="left:321px;top:1586px;width:85px;height:26px;line-height:26px;font-size:16px;">2.1%</div>
<div class="r" style="left:408px;top:1586px;width:85px;height:26px;line-height:26px;font-size:16px;">5.9%</div>
<div class="r" style="left:495px;top:1586px;width:85px;height:26px;line-height:26px;font-size:16px;">9.2%</div>
<div class="r" style="left:582px;top:1586px;width:85px;height:26px;line-height:26px;font-size:16px;">61.0%</div>
<div class="r" style="left:669px;top:1586px;width:86px;height:26px;line-height:26px;font-size:16px;">58.8%</div>
<div style="left:10px;top:1612px;width:746px;height:1px;background:#2b2b2b"></div>
<div class="c" style="left:10px;top:1613px;width:43px;height:26px;line-height:26px;font-size:16px;">5</div>
<div class="l j" style="left:55px;top:1613px;width:105px;height:26px;line-height:26px;font-size:16px;">田中健</div>
<div class="l" style="left:162px;top:1613px;width:158px;height:26px;line-height:26px;font-size:16px;">9-6-8-107</div>
<div class="r" style="left:321px;top:1613px;width:85px;height:26px;line-height:26px;font-size:16px;">6.9%</div>
<div class="r" style="left:408px;top:1613px;width:85px;height:26px;line-height:26px;font-size:16px;">11.5%</div>
<div class="r" style="left:495px;top:1613px;width:85px;height:26px;line-height:26px;font-size:16px;">17.7%</div>
<div class="r" style="left:582px;top:1613px;width:85px;height:26px;background:#fde2d8;line-height:26px;font-size:16px;">305.2%</div>
<div class="r" style="left:669px;top:1613px;width:86px;height:26px;line-height:26px;font-size:16px;">72.4%</div>
<div style="left:10px;top:1639px;width:746px;height:27px;background:#e1ebfc;"></div>
<div style="left:10px;top:1639px;width:746px;height:1px;background:#2b2b2b"></div>
<div class="c" style="left:10px;top:1640px;width:43px;height:26px;line-height:26px;font-size:16px;">6</div>
<div class="l j" style="left:55px;top:1640px;width:105px;height:26px;line-height:26px;font-size:16px;">長岡禎仁</div>
<div class="l" style="left:162px;top:1640px;width:158px;height:26px;line-height:26px;font-size:16px;">1-1-4-55</div>
<div class="r" style="left:321px;top:1640px;width:85px;height:26px;line-height:26px;font-size:16px;">1.6%</div>
<div class="r" style="left:408px;top:1640px;width:85px;height:26px;line-height:26px;font-size:16px;">3.3%</div>
<div class="r" style="left:495px;top:1640px;width:85px;height:26px;line-height:26px;font-size:16px;">9.8%</div>
<div class="r" style="left:582px;top:1640px;width:85px;height:26px;line-height:26px;font-size:16px;">6.1%</div>
<div class="r" style="left:669px;top:1640px;width:86px;height:26px;line-height:26px;font-size:16px;">60.0%</div>
<div style="left:10px;top:1666px;width:746px;height:1px;background:#2b2b2b"></div>
<div class="c" style="left:10px;top:1667px;width:43px;height:26px;line-height:26px;font-size:16px;">7</div>
<div class="l j" style="left:55px;top:1667px;width:105px;height:26px;line-height:26px;font-size:16px;">福永祐一</div>
<div class="l" style="left:162px;top:1667px;width:158px;height:26px;line-height:26px;font-size:16px;">14-11-6-17</div>
<div class="r" style="left:321px;top:1667px;width:85px;height:26px;line-height:26px;font-size:16px;">29.2%</div>
<div class="r" style="left:408px;top:1667px;width:85px;height:26px;line-height:26px;font-size:16px;">52.1%</div>
<div class="r" style="left:495px;top:1667px;width:85px;height:26px;line-height:26px;font-size:16px;">64.6%</div>
<div class="r" style="left:582px;top:1667px;width:85px;height:26px;background:#fde2d8;line-height:26px;font-size:16px;">133.1%</div>
<div class="r" style="left:669px;top:1667px;width:86px;height:26px;background:#fde2d8;line-height:26px;font-size:16px;">115.2%</div>
<div style="left:10px;top:1693px;width:746px;height:27px;background:#e1ebfc;"></div>
<div style="left:10px;top:1693px;width:746px;height:1px;background:#2b2b2b"></div>
<div class="c" style="left:10px;top:1694px;width:43px;height:26px;line-height:26px;font-size:16px;">8</div>
<div class="l j" style="left:55px;top:1694px;width:105px;height:26px;line-height:26px;font-size:16px;">岩田望来</div>
<div class="l" style="left:162px;top:1694px;width:158px;height:26px;line-height:26px;font-size:16px;">1-2-4-23</div>
<div class="r" style="left:321px;top:1694px;width:85px;height:26px;line-height:26px;font-size:16px;">3.3%</div>
<div class="r" style="left:408px;top:1694px;width:85px;height:26px;line-height:26px;font-size:16px;">10.0%</div>
<div class="r" style="left:495px;top:1694px;width:85px;height:26px;line-height:26px;font-size:16px;">23.3%</div>
<div class="r" style="left:582px;top:1694px;width:85px;height:26px;line-height:26px;font-size:16px;">41.3%</div>
<div class="r" style="left:669px;top:1694px;width:86px;height:26px;line-height:26px;font-size:16px;">46.0%</div>
<div style="left:10px;top:1720px;width:746px;height:1px;background:#2b2b2b"></div>
<div class="c" style="left:10px;top:1721px;width:43px;height:26px;line-height:26px;font-size:16px;">9</div>
<div class="l j" style="left:55px;top:1721px;width:105px;height:26px;line-height:26px;font-size:16px;">柴田未崎</div>
<div class="l" style="left:162px;top:1721px;width:158px;height:26px;line-height:26px;font-size:16px;">0-1-0-31</div>
<div class="r" style="left:321px;top:1721px;width:85px;height:26px;line-height:26px;font-size:16px;">0.0%</div>
<div class="r" style="left:408px;top:1721px;width:85px;height:26px;line-height:26px;font-size:16px;">3.1%</div>
<div class="r" style="left:495px;top:1721px;width:85px;height:26px;line-height:26px;font-size:16px;">3.1%</div>
<div class="r" style="left:582px;top:1721px;width:85px;height:26px;line-height:26px;font-size:16px;">0.0%</div>
<div class="r" style="left:669px;top:1721px;width:86px;height:26px;line-height:26px;font-size:16px;">6.2%</div>
<div style="left:10px;top:1747px;width:746px;height:27px;background:#e1ebfc;"></div>
<div style="left:10px;top:1747px;width:746px;height:1px;background:#2b2b2b"></div>
<div class="c" style="left:10px;top:1748px;width:43px;height:26px;line-height:26px;font-size:16px;">10</div>
<div class="l j" style="left:55px;top:1748px;width:105px;height:26px;line-height:26px;font-size:16px;">幸英明</div>
<div class="l" style="left:162px;top:1748px;width:158px;height:26px;line-height:26px;font-size:16px;">38-38-36-318</div>
<div class="r" style="left:321px;top:1748px;width:85px;height:26px;line-height:26px;font-size:16px;">8.8%</div>
<div class="r" style="left:408px;top:1748px;width:85px;height:26px;line-height:26px;font-size:16px;">17.7%</div>
<div class="r" style="left:495px;top:1748px;width:85px;height:26px;line-height:26px;font-size:16px;">26.0%</div>
<div class="r" style="left:582px;top:1748px;width:85px;height:26px;line-height:26px;font-size:16px;">53.5%</div>
<div class="r" style="left:669px;top:1748px;width:86px;height:26px;line-height:26px;font-size:16px;">64.6%</div>
<div style="left:10px;top:1774px;width:746px;height:1px;background:#2b2b2b"></div>
<div class="c" style="left:10px;top:1775px;width:43px;height:26px;line-height:26px;font-size:16px;">11</div>
<div class="l j" style="left:55px;top:1775px;width:105px;height:26px;line-height:26px;font-size:16px;">角田大和</div>
<div class="l" style="left:162px;top:1775px;width:158px;height:26px;line-height:26px;font-size:16px;">0-0-1-4</div>
<div class="r" style="left:321px;top:1775px;width:85px;height:26px;line-height:26px;font-size:16px;">0.0%</div>
<div class="r" style="left:408px;top:1775px;width:85px;height:26px;line-height:26px;font-size:16px;">0.0%</div>
<div class="r" style="left:495px;top:1775px;width:85px;height:26px;line-height:26px;font-size:16px;">20.0%</div>
<div class="r" style="left:582px;top:1775px;width:85px;height:26px;line-height:26px;font-size:16px;">0.0%</div>
<div class="r" style="left:669px;top:1775px;width:86px;height:26px;line-height:26px;font-size:16px;">68.0%</div>
<div style="left:10px;top:1801px;width:746px;height:27px;background:#e1ebfc;"></div>
<div style="left:10px;top:1801px;width:746px;height:1px;background:#2b2b2b"></div>
<div class="c" style="left:10px;top:1802px;width:43px;height:26px;line-height:26px;font-size:16px;">12</div>
<div class="l j" style="left:55px;top:1802px;width:105px;height:26px;line-height:26px;font-size:16px;">松山弘平</div>
<div class="l" style="left:162px;top:1802px;width:158px;height:26px;line-height:26px;font-size:16px;">42-37-40-336</div>
<div class="r" style="left:321px;top:1802px;width:85px;height:26px;line-height:26px;font-size:16px;">9.2%</div>
<div class="r" style="left:408px;top:1802px;width:85px;height:26px;line-height:26px;font-size:16px;">17.4%</div>
<div class="r" style="left:495px;top:1802px;width:85px;height:26px;line-height:26px;font-size:16px;">26.2%</div>
<div class="r" style="left:582px;top:1802px;width:85px;height:26px;line-height:26px;font-size:16px;">52.6%</div>
<div class="r" style="left:669px;top:1802px;width:86px;height:26px;line-height:26px;font-size:16px;">82.5%</div>
<div style="left:10px;top:1828px;width:746px;height:1px;background:#2b2b2b"></div>
<div class="c" style="left:10px;top:1829px;width:43px;height:26px;line-height:26px;font-size:16px;">13</div>
<div class="l j" style="left:55px;top:1829px;width:105px;height:26px;line-height:26px;font-size:16px;">鮫島克駿</div>
<div class="l" style="left:162px;top:1829px;width:158px;height:26px;line-height:26px;font-size:16px;">20-14-17-214</div>
<div class="r" style="left:321px;top:1829px;width:85px;height:26px;line-height:26px;font-size:16px;">7.5%</div>
<div class="r" style="left:408px;top:1829px;width:85px;height:26px;line-height:26px;font-size:16px;">12.8%</div>
<div class="r" style="left:495px;top:1829px;width:85px;height:26px;line-height:26px;font-size:16px;">19.2%</div>
<div class="r" style="left:582px;top:1829px;width:85px;height:26px;line-height:26px;font-size:16px;">93.3%</div>
<div class="r" style="left:669px;top:1829px;width:86px;height:26px;line-height:26px;font-size:16px;">73.7%</div>
<div style="left:10px;top:1855px;width:746px;height:27px;background:#e1ebfc;"></div>
<div style="left:10px;top:1855px;width:746px;height:1px;background:#2b2b2b"></div>
<div class="c" style="left:10px;top:1856px;width:43px;height:26px;line-height:26px;font-size:16px;">14</div>
<div class="l j" style="left:55px;top:1856px;width:105px;height:26px;line-height:26px;font-size:16px;">森裕太朗</div>
<div class="l" style="left:162px;top:1856px;width:158px;height:26px;line-height:26px;font-size:16px;">1-4-2-63</div>
<div class="r" style="left:321px;top:1856px;width:85px;height:26px;line-height:26px;font-size:16px;">1.4%</div>
<div class="r" style="left:408px;top:1856px;width:85px;height:26px;line-height:26px;font-size:16px;">7.1%</div>
<div class="r" style="left:495px;top:1856px;width:85px;height:26px;line-height:26px;font-size:16px;">10.0%</div>
<div class="r" style="left:582px;top:1856px;width:85px;height:26px;line-height:26px;font-size:16px;">34.1%</div>
<div class="r" style="left:669px;top:1856px;width:86px;height:26px;background:#fde2d8;line-height:26px;font-size:16px;">147.7%</div>
<div style="left:10px;top:1882px;width:746px;height:1px;background:#2b2b2b"></div>
<div class="c" style="left:10px;top:1883px;width:43px;height:26px;line-height:26px;font-size:16px;">15</div>
<div class="l j" style="left:55px;top:1883px;width:105px;height:26px;line-height:26px;font-size:16px;">松本大輝</div>
<div class="l" style="left:162px;top:1883px;width:158px;height:26px;line-height:26px;font-size:16px;">0-0-1-6</div>
<div class="r" style="left:321px;top:1883px;width:85px;height:26px;line-height:26px;font-size:16px;">0.0%</div>
<div class="r" style="left:408px;top:1883px;width:85px;height:26px;line-height:26px;font-size:16px;">0.0%</div>
<div class="r" style="left:495px;top:1883px;width:85px;height:26px;line-height:26px;font-size:16px;">14.3%</div>
<div class="r" style="left:582px;top:1883px;width:85px;height:26px;line-height:26px;font-size:16px;">0.0%</div>
<div class="r" style="left:669px;top:1883px;width:86px;height:26px;line-height:26px;font-size:16px;">81.4%</div>
<div style="left:10px;top:1909px;width:746px;height:27px;background:#e1ebfc;"></div>
<div style="left:10px;top:1909px;width:746px;height:1px;background:#2b2b2b"></div>
<div class="c" style="left:10px;top:1910px;width:43px;height:26px;line-height:26px;font-size:16px;">16</div>
<div class="l j" style="left:55px;top:1910px;width:105px;height:26px;line-height:26px;font-size:16px;">城戸義政</div>
<div class="l" style="left:162px;top:1910px;width:158px;height:26px;line-height:26px;font-size:16px;">1-1-1-46</div>
<div class="r" style="left:321px;top:1910px;width:85px;height:26px;line-height:26px;font-size:16px;">2.0%</div>
<div class="r" style="left:408px;top:1910px;width:85px;height:26px;line-height:26px;font-size:16px;">4.1%</div>
<div class="r" style="left:495px;top:1910px;width:85px;height:26px;line-height:26px;font-size:16px;">6.1%</div>
<div class="r" style="left:582px;top:1910px;width:85px;height:26px;line-height:26px;font-size:16px;">16.9%</div>
<div class="r" style="left:669px;top:1910px;width:86px;height:26px;line-height:26px;font-size:16px;">17.8%</div>
<div style="left:53px;top:1477px;width:1px;height:459px;background:#2b2b2b"></div>
<div style="left:160px;top:1477px;width:1px;height:459px;background:#2b2b2b"></div>
<div style="left:320px;top:1477px;width:1px;height:459px;background:#2b2b2b"></div>
<div style="left:407px;top:1477px;width:1px;height:459px;background:#2b2b2b"></div>
<div style="left:494px;top:1477px;width:1px;height:459px;background:#2b2b2b"></div>
<div style="left:581px;top:1477px;width:1px;height:459px;background:#2b2b2b"></div>
<div style="left:668px;top:1477px;width:1px;height:459px;background:#2b2b2b"></div>
<div style="left:8px;top:1948px;width:750px;height:2px;background:#222"></div>
<div style="left:8px;top:2355px;width:750px;height:2px;background:#222"></div>
<div style="left:8px;top:1948px;width:2px;height:409px;background:#222"></div>
<div style="left:756px;top:1948px;width:2px;height:409px;background:#222"></div>
<div class="l" style="left:11px;top:1949.5px;width:689px;height:26.0px;line-height:26.0px;font-size:16px;">●種牡馬別成績 過去10年 頭数フィルタ無し</div>
<div style="left:10px;top:1976px;width:746px;height:1px;background:#2b2b2b"></div>
<div style="left:10px;top:1977px;width:746px;height:26px;background:#203864;"></div>
<div class="h" style="left:10px;top:1976px;width:41px;height:27px;line-height:27px;font-size:16px;">馬番</div>
<div class="h" style="left:52px;top:1976px;width:138px;height:27px;line-height:27px;font-size:16px;">種牡馬別</div>
<div class="h" style="left:191px;top:1976px;width:150px;height:27px;line-height:27px;font-size:16px;">着別度数</div>
<div class="h" style="left:342px;top:1976px;width:82px;height:27px;line-height:27px;font-size:16px;">勝率</div>
<div class="h" style="left:425px;top:1976px;width:82px;height:27px;line-height:27px;font-size:16px;">連対率</div>
<div class="h" style="left:508px;top:1976px;width:82px;height:27px;line-height:27px;font-size:16px;">複勝率</div>
<div class="h" style="left:591px;top:1976px;width:82px;height:27px;line-height:27px;font-size:10px;">単勝回収率</div>
<div class="h" style="left:674px;top:1976px;width:82px;height:27px;line-height:27px;font-size:10px;">複勝回収率</div>
<div style="left:10px;top:2003px;width:746px;height:1px;background:#2b2b2b"></div>
<div class="c" style="left:10px;top:2003px;width:41px;height:21px;line-height:21px;font-size:16px;">1</div>
<div class="l j" style="left:53px;top:2004px;width:137px;height:21px;line-height:21px;font-size:10.5px;color:#484848;">ショウナンカンプ</div>
<div class="l" style="left:192px;top:2003px;width:149px;height:21px;line-height:21px;font-size:16px;">5-5-9-97</div>
<div class="r" style="left:342px;top:2003px;width:81px;height:21px;line-height:21px;font-size:16px;">4.3%</div>
<div class="r" style="left:425px;top:2003px;width:81px;height:21px;line-height:21px;font-size:16px;">8.6%</div>
<div class="r" style="left:508px;top:2003px;width:81px;height:21px;line-height:21px;font-size:16px;">16.4%</div>
<div class="r" style="left:591px;top:2003px;width:81px;height:21px;line-height:21px;font-size:16px;">38.6%</div>
<div style="left:674px;top:2004px;width:81px;height:21px;background:#fde2d8;"></div>
<div class="r" style="left:674px;top:2003px;width:81px;height:21px;line-height:21px;font-size:16px;">127.3%</div>
<div style="left:10px;top:2025px;width:746px;height:22px;background:#e1ebfc;"></div>
<div style="left:10px;top:2025px;width:746px;height:1px;background:#2b2b2b"></div>
<div class="c" style="left:10px;top:2025px;width:41px;height:21px;line-height:21px;font-size:16px;">2</div>
<div class="l j" style="left:53px;top:2026px;width:137px;height:21px;line-height:21px;font-size:10.5px;color:#484848;">サドンストーム</div>
<div class="l" style="left:192px;top:2025px;width:149px;height:21px;line-height:21px;font-size:16px;">0-0-0-1</div>
<div class="r" style="left:342px;top:2025px;width:81px;height:21px;line-height:21px;font-size:16px;">0.0%</div>
<div class="r" style="left:425px;top:2025px;width:81px;height:21px;line-height:21px;font-size:16px;">0.0%</div>
<div class="r" style="left:508px;top:2025px;width:81px;height:21px;line-height:21px;font-size:16px;">0.0%</div>
<div class="r" style="left:591px;top:2025px;width:81px;height:21px;line-height:21px;font-size:16px;">0.0%</div>
<div class="r" style="left:674px;top:2025px;width:81px;height:21px;line-height:21px;font-size:16px;">0.0%</div>
<div style="left:10px;top:2047px;width:746px;height:1px;background:#2b2b2b"></div>
<div class="c" style="left:10px;top:2047px;width:41px;height:21px;line-height:21px;font-size:16px;">3</div>
<div class="l j" style="left:53px;top:2048px;width:137px;height:21px;line-height:21px;font-size:10.5px;color:#484848;">エーシンシャラク</div>
<div class="l" style="left:192px;top:2047px;width:149px;height:21px;line-height:21px;font-size:16px;">0-0-0-1</div>
<div class="r" style="left:342px;top:2047px;width:81px;height:21px;line-height:21px;font-size:16px;">0.0%</div>
<div class="r" style="left:425px;top:2047px;width:81px;height:21px;line-height:21px;font-size:16px;">0.0%</div>
<div class="r" style="left:508px;top:2047px;width:81px;height:21px;line-height:21px;font-size:16px;">0.0%</div>
<div class="r" style="left:591px;top:2047px;width:81px;height:21px;line-height:21px;font-size:16px;">0.0%</div>
<div class="r" style="left:674px;top:2047px;width:81px;height:21px;line-height:21px;font-size:16px;">0.0%</div>
<div style="left:10px;top:2069px;width:746px;height:22px;background:#e1ebfc;"></div>
<div style="left:10px;top:2069px;width:746px;height:1px;background:#2b2b2b"></div>
<div class="c" style="left:10px;top:2069px;width:41px;height:21px;line-height:21px;font-size:16px;">4</div>
<div class="l j" style="left:53px;top:2070px;width:137px;height:21px;line-height:21px;font-size:10.5px;color:#484848;">マジェスティックウォリアー</div>
<div class="l" style="left:192px;top:2069px;width:149px;height:21px;line-height:21px;font-size:16px;">0-1-1-7</div>
<div class="r" style="left:342px;top:2069px;width:81px;height:21px;line-height:21px;font-size:16px;">0.0%</div>
<div class="r" style="left:425px;top:2069px;width:81px;height:21px;line-height:21px;font-size:16px;">11.1%</div>
<div class="r" style="left:508px;top:2069px;width:81px;height:21px;line-height:21px;font-size:16px;">22.2%</div>
<div class="r" style="left:591px;top:2069px;width:81px;height:21px;line-height:21px;font-size:16px;">0.0%</div>
<div class="r" style="left:674px;top:2069px;width:81px;height:21px;line-height:21px;font-size:16px;">46.7%</div>
<div style="left:10px;top:2091px;width:746px;height:1px;background:#2b2b2b"></div>
<div class="c" style="left:10px;top:2091px;width:41px;height:21px;line-height:21px;font-size:16px;">5</div>
<div class="l j" style="left:53px;top:2092px;width:137px;height:21px;line-height:21px;font-size:10.5px;color:#484848;">ヴァンセンヌ</div>
<div class="l" style="left:192px;top:2091px;width:149px;height:21px;line-height:21px;font-size:16px;">3-2-0-15</div>
<div class="r" style="left:342px;top:2091px;width:81px;height:21px;line-height:21px;font-size:16px;">15.0%</div>
<div class="r" style="left:425px;top:2091px;width:81px;height:21px;line-height:21px;font-size:16px;">25.0%</div>
<div class="r" style="left:508px;top:2091px;width:81px;height:21px;line-height:21px;font-size:16px;">25.0%</div>
<div class="r" style="left:591px;top:2091px;width:81px;height:21px;line-height:21px;font-size:16px;">83.5%</div>
<div class="r" style="left:674px;top:2091px;width:81px;height:21px;line-height:21px;font-size:16px;">38.0%</div>
<div style="left:10px;top:2113px;width:746px;height:22px;background:#e1ebfc;"></div>
<div style="left:10px;top:2113px;width:746px;height:1px;background:#2b2b2b"></div>
<div class="c" style="left:10px;top:2113px;width:41px;height:21px;line-height:21px;font-size:16px;">6</div>
<div class="l j" style="left:53px;top:2114px;width:137px;height:21px;line-height:21px;font-size:10.5px;color:#484848;">カレンブラックヒル</div>
<div class="l" style="left:192px;top:2113px;width:149px;height:21px;line-height:21px;font-size:16px;">0-5-1-17</div>
<div class="r" style="left:342px;top:2113px;width:81px;height:21px;line-height:21px;font-size:16px;">0.0%</div>
<div class="r" style="left:425px;top:2113px;width:81px;height:21px;line-height:21px;font-size:16px;">21.7%</div>
<div class="r" style="left:508px;top:2113px;width:81px;height:21px;line-height:21px;font-size:16px;">26.1%</div>
<div class="r" style="left:591px;top:2113px;width:81px;height:21px;line-height:21px;font-size:16px;">0.0%</div>
<div style="left:674px;top:2114px;width:81px;height:21px;background:#fde2d8;"></div>
<div class="r" style="left:674px;top:2113px;width:81px;height:21px;line-height:21px;font-size:16px;">142.6%</div>
<div style="left:10px;top:2135px;width:746px;height:1px;background:#2b2b2b"></div>
<div class="c" style="left:10px;top:2135px;width:41px;height:21px;line-height:21px;font-size:16px;">7</div>
<div class="l j" style="left:53px;top:2136px;width:137px;height:21px;line-height:21px;font-size:10.5px;color:#484848;">ノヴェリスト</div>
<div class="l" style="left:192px;top:2135px;width:149px;height:21px;line-height:21px;font-size:16px;">2-1-2-47</div>
<div class="r" style="left:342px;top:2135px;width:81px;height:21px;line-height:21px;font-size:16px;">3.8%</div>
<div class="r" style="left:425px;top:2135px;width:81px;height:21px;line-height:21px;font-size:16px;">5.8%</div>
<div class="r" style="left:508px;top:2135px;width:81px;height:21px;line-height:21px;font-size:16px;">9.6%</div>
<div class="r" style="left:591px;top:2135px;width:81px;height:21px;line-height:21px;font-size:16px;">34.4%</div>
<div class="r" style="left:674px;top:2135px;width:81px;height:21px;line-height:21px;font-size:16px;">30.4%</div>
<div style="left:10px;top:2157px;width:746px;height:22px;background:#e1ebfc;"></div>
<div style="left:10px;top:2157px;width:746px;height:1px;background:#2b2b2b"></div>
<div class="c" style="left:10px;top:2157px;width:41px;height:21px;line-height:21px;font-size:16px;">8</div>
<div class="l j" style="left:53px;top:2158px;width:137px;height:21px;line-height:21px;font-size:10.5px;color:#484848;">バドトロワ</div>
<div class="l" style="left:192px;top:2157px;width:149px;height:21px;line-height:21px;font-size:16px;">2-2-0-22</div>
<div class="r" style="left:342px;top:2157px;width:81px;height:21px;line-height:21px;font-size:16px;">7.7%</div>
<div class="r" style="left:425px;top:2157px;width:81px;height:21px;line-height:21px;font-size:16px;">15.4%</div>
<div class="r" style="left:508px;top:2157px;width:81px;height:21px;line-height:21px;font-size:16px;">15.4%</div>
<div style="left:591px;top:2158px;width:81px;height:21px;background:#fde2d8;"></div>
<div class="r" style="left:591px;top:2157px;width:81px;height:21px;line-height:21px;font-size:16px;">117.3%</div>
<div class="r" style="left:674px;top:2157px;width:81px;height:21px;line-height:21px;font-size:16px;">44.6%</div>
<div style="left:10px;top:2179px;width:746px;height:1px;background:#2b2b2b"></div>
<div class="c" style="left:10px;top:2179px;width:41px;height:21px;line-height:21px;font-size:16px;">9</div>
<div class="l j" style="left:53px;top:2180px;width:137px;height:21px;line-height:21px;font-size:10.5px;color:#484848;">ダノンシャーク</div>
<div class="l" style="left:192px;top:2179px;width:149px;height:21px;line-height:21px;font-size:16px;">1-0-1-1</div>
<div class="r" style="left:342px;top:2179px;width:81px;height:21px;line-height:21px;font-size:16px;">33.3%</div>
<div class="r" style="left:425px;top:2179px;width:81px;height:21px;line-height:21px;font-size:16px;">33.3%</div>
<div class="r" style="left:508px;top:2179px;width:81px;height:21px;line-height:21px;font-size:16px;">66.7%</div>
<div class="r" style="left:591px;top:2179px;width:81px;height:21px;line-height:21px;font-size:16px;">100.0%</div>
<div class="r" style="left:674px;top:2179px;width:81px;height:21px;line-height:21px;font-size:16px;">126.7%</div>
<div style="left:10px;top:2201px;width:746px;height:22px;background:#e1ebfc;"></div>
<div style="left:10px;top:2201px;width:746px;height:1px;background:#2b2b2b"></div>
<div class="c" style="left:10px;top:2201px;width:41px;height:21px;line-height:21px;font-size:16px;">10</div>
<div class="l j" style="left:53px;top:2202px;width:137px;height:21px;line-height:21px;font-size:10.5px;color:#484848;">ディスクリートキャット</div>
<div class="l" style="left:192px;top:2201px;width:149px;height:21px;line-height:21px;font-size:16px;">0-0-1-14</div>
<div class="r" style="left:342px;top:2201px;width:81px;height:21px;line-height:21px;font-size:16px;">0.0%</div>
<div class="r" style="left:425px;top:2201px;width:81px;height:21px;line-height:21px;font-size:16px;">0.0%</div>
<div class="r" style="left:508px;top:2201px;width:81px;height:21px;line-height:21px;font-size:16px;">6.7%</div>
<div class="r" style="left:591px;top:2201px;width:81px;height:21px;line-height:21px;font-size:16px;">0.0%</div>
<div class="r" style="left:674px;top:2201px;width:81px;height:21px;line-height:21px;font-size:16px;">59.3%</div>
<div style="left:10px;top:2223px;width:746px;height:1px;background:#2b2b2b"></div>
<div class="c" style="left:10px;top:2223px;width:41px;height:21px;line-height:21px;font-size:16px;">11</div>
<div class="l j" style="left:53px;top:2224px;width:137px;height:21px;line-height:21px;font-size:10.5px;color:#484848;">マクフィ</div>
<div class="l" style="left:192px;top:2223px;width:149px;height:21px;line-height:21px;font-size:16px;">0-0-2-8</div>
<div class="r" style="left:342px;top:2223px;width:81px;height:21px;line-height:21px;font-size:16px;">0.0%</div>
<div class="r" style="left:425px;top:2223px;width:81px;height:21px;line-height:21px;font-size:16px;">0.0%</div>
<div class="r" style="left:508px;top:2223px;width:81px;height:21px;line-height:21px;font-size:16px;">20.0%</div>
<div class="r" style="left:591px;top:2223px;width:81px;height:21px;line-height:21px;font-size:16px;">0.0%</div>
<div class="r" style="left:674px;top:2223px;width:81px;height:21px;line-height:21px;font-size:16px;">193.0%</div>
<div style="left:10px;top:2245px;width:746px;height:22px;background:#e1ebfc;"></div>
<div style="left:10px;top:2245px;width:746px;height:1px;background:#2b2b2b"></div>
<div class="c" style="left:10px;top:2245px;width:41px;height:21px;line-height:21px;font-size:16px;">12</div>
<div class="l j" style="left:53px;top:2246px;width:137px;height:21px;line-height:21px;font-size:10.5px;color:#484848;">カンパニー</div>
<div class="l" style="left:192px;top:2245px;width:149px;height:21px;line-height:21px;font-size:16px;">2-2-2-46</div>
<div class="r" style="left:342px;top:2245px;width:81px;height:21px;line-height:21px;font-size:16px;">3.8%</div>
<div class="r" style="left:425px;top:2245px;width:81px;height:21px;line-height:21px;font-size:16px;">7.7%</div>
<div class="r" style="left:508px;top:2245px;width:81px;height:21px;line-height:21px;font-size:16px;">11.5%</div>
<div class="r" style="left:591px;top:2245px;width:81px;height:21px;line-height:21px;font-size:16px;">63.5%</div>
<div class="r" style="left:674px;top:2245px;width:81px;height:21px;line-height:21px;font-size:16px;">46.5%</div>
<div style="left:10px;top:2267px;width:746px;height:1px;background:#2b2b2b"></div>
<div class="c" style="left:10px;top:2267px;width:41px;height:21px;line-height:21px;font-size:16px;">13</div>
<div class="l j" style="left:53px;top:2268px;width:137px;height:21px;line-height:21px;font-size:10.5px;color:#484848;">ロードバリオス</div>
<div class="l" style="left:192px;top:2267px;width:149px;height:21px;line-height:21px;font-size:16px;">0-0-0-7</div>
<div class="r" style="left:342px;top:2267px;width:81px;height:21px;line-height:21px;font-size:16px;">0.0%</div>
<div class="r" style="left:425px;top:2267px;width:81px;height:21px;line-height:21px;font-size:16px;">0.0%</div>
<div class="r" style="left:508px;top:2267px;width:81px;height:21px;line-height:21px;font-size:16px;">0.0%</div>
<div class="r" style="left:591px;top:2267px;width:81px;height:21px;line-height:21px;font-size:16px;">0.0%</div>
<div class="r" style="left:674px;top:2267px;width:81px;height:21px;line-height:21px;font-size:16px;">0.0%</div>
<div style="left:10px;top:2289px;width:746px;height:22px;background:#e1ebfc;"></div>
<div style="left:10px;top:2289px;width:746px;height:1px;background:#2b2b2b"></div>
<div class="c" style="left:10px;top:2289px;width:41px;height:21px;line-height:21px;font-size:16px;">14</div>
<div class="l j" style="left:53px;top:2290px;width:137px;height:21px;line-height:21px;font-size:10.5px;color:#484848;">ゴールスキー</div>
<div class="l" style="left:192px;top:2289px;width:149px;height:21px;line-height:21px;font-size:16px;">0-0-1-1</div>
<div class="r" style="left:342px;top:2289px;width:81px;height:21px;line-height:21px;font-size:16px;">0.0%</div>
<div class="r" style="left:425px;top:2289px;width:81px;height:21px;line-height:21px;font-size:16px;">0.0%</div>
<div class="r" style="left:508px;top:2289px;width:81px;height:21px;line-height:21px;font-size:16px;">50.0%</div>
<div class="r" style="left:591px;top:2289px;width:81px;height:21px;line-height:21px;font-size:16px;">0.0%</div>
<div class="r" style="left:674px;top:2289px;width:81px;height:21px;line-height:21px;font-size:16px;">175.0%</div>
<div style="left:10px;top:2311px;width:746px;height:1px;background:#2b2b2b"></div>
<div class="c" style="left:10px;top:2311px;width:41px;height:21px;line-height:21px;font-size:16px;">15</div>
<div class="l j" style="left:53px;top:2312px;width:137px;height:21px;line-height:21px;font-size:10.5px;color:#484848;">カンパニー</div>
<div class="l" style="left:192px;top:2311px;width:149px;height:21px;line-height:21px;font-size:16px;">2-2-2-46</div>
<div class="r" style="left:342px;top:2311px;width:81px;height:21px;line-height:21px;font-size:16px;">3.8%</div>
<div class="r" style="left:425px;top:2311px;width:81px;height:21px;line-height:21px;font-size:16px;">7.7%</div>
<div class="r" style="left:508px;top:2311px;width:81px;height:21px;line-height:21px;font-size:16px;">11.5%</div>
<div class="r" style="left:591px;top:2311px;width:81px;height:21px;line-height:21px;font-size:16px;">63.5%</div>
<div class="r" style="left:674px;top:2311px;width:81px;height:21px;line-height:21px;font-size:16px;">46.5%</div>
<div style="left:10px;top:2333px;width:746px;height:22px;background:#e1ebfc;"></div>
<div style="left:10px;top:2333px;width:746px;height:1px;background:#2b2b2b"></div>
<div class="c" style="left:10px;top:2333px;width:41px;height:21px;line-height:21px;font-size:16px;">16</div>
<div class="l j" style="left:53px;top:2334px;width:137px;height:21px;line-height:21px;font-size:10.5px;color:#484848;">ケイムホーム</div>
<div class="l" style="left:192px;top:2333px;width:149px;height:21px;line-height:21px;font-size:16px;">5-5-4-82</div>
<div class="r" style="left:342px;top:2333px;width:81px;height:21px;line-height:21px;font-size:16px;">5.2%</div>
<div class="r" style="left:425px;top:2333px;width:81px;height:21px;line-height:21px;font-size:16px;">10.4%</div>
<div class="r" style="left:508px;top:2333px;width:81px;height:21px;line-height:21px;font-size:16px;">14.6%</div>
<div style="left:591px;top:2334px;width:81px;height:21px;background:#fde2d8;"></div>
<div class="r" style="left:591px;top:2333px;width:81px;height:21px;line-height:21px;font-size:16px;">119.5%</div>
<div class="r" style="left:674px;top:2333px;width:81px;height:21px;line-height:21px;font-size:16px;">79.0%</div>
<div style="left:51px;top:1976px;width:1px;height:379px;background:#2b2b2b"></div>
<div style="left:190px;top:1976px;width:1px;height:379px;background:#2b2b2b"></div>
<div style="left:341px;top:1976px;width:1px;height:379px;background:#2b2b2b"></div>
<div style="left:424px;top:1976px;width:1px;height:379px;background:#2b2b2b"></div>
<div style="left:507px;top:1976px;width:1px;height:379px;background:#2b2b2b"></div>
<div style="left:590px;top:1976px;width:1px;height:379px;background:#2b2b2b"></div>
<div style="left:673px;top:1976px;width:1px;height:379px;background:#2b2b2b"></div>
</div></body></html>
